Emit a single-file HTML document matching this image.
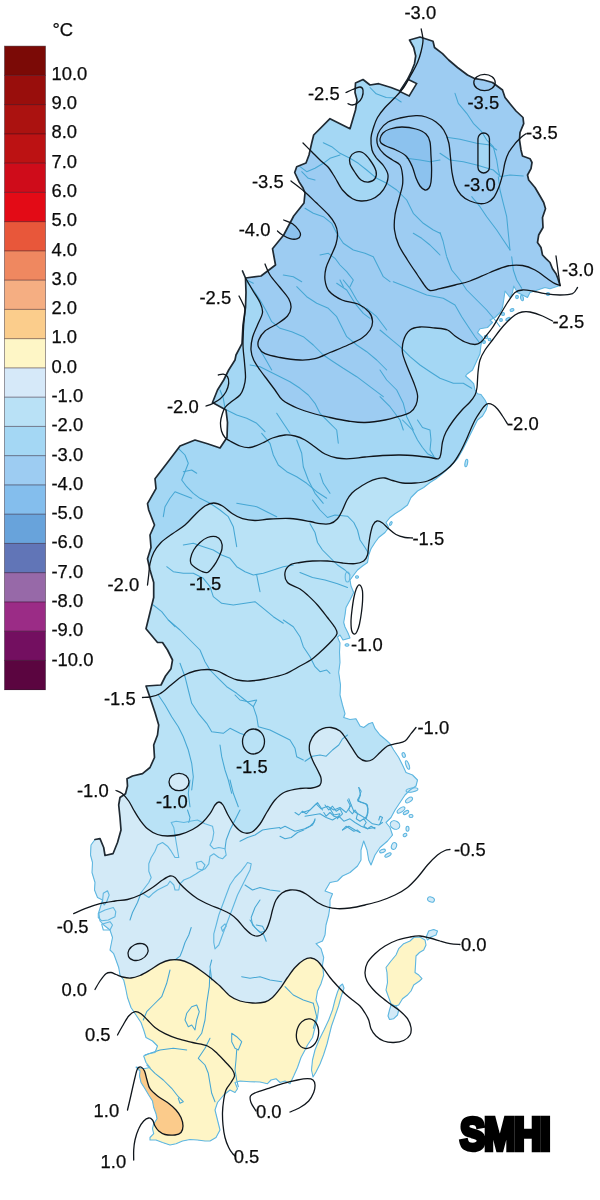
<!DOCTYPE html>
<html lang="sv">
<head>
<meta charset="utf-8">
<title>SMHI temperaturavvikelse</title>
<style>
html,body{margin:0;padding:0;background:#fff;}
body{width:600px;height:1200px;overflow:hidden;font-family:"Liberation Sans",sans-serif;}
svg{display:block;}
</style>
</head>
<body>
<svg width="600" height="1200" viewBox="0 0 600 1200">
<defs><clipPath id="land">
<path d="M560,285.5 L558,278.7 L556,273.7 L552.5,268.7 L550,262.5 L546,258.7 L542.5,255 L541,247.5 L537.5,242.5 L538.7,235 L543,227.5 L542.5,217.5 L545.5,208.7 L543.7,202.5 L540,196 L535,187.5 L528.7,180 L527.5,175 L531,168.7 L532,162.5 L530,158.7 L522.5,156 L521,150 L519.5,140 L520,132.5 L523.7,123.7 L523,117.5 L516,111 L510,103.7 L505,97.5 L502.5,90 L492.5,82.5 L483.7,80 L475,78.7 L467.5,75 L457.5,67.5 L448.7,60 L442.5,53.7 L434.5,47.5 L433,41.2 L420,37 L409.5,40 L413.7,47.5 L415.7,56 L414.5,63.7 L411,72.5 L407.5,79.5 L400,91 L391,87.5 L378.7,83.7 L370,85 L363,79.5 L355.5,83 L355,92.5 L357,100 L355.5,110 L350,128.7 L330,118.7 L313.7,135 L311.7,143 L309,155 L306,163 L296.7,166.7 L294.7,172.5 L299,181.7 L303,188 L305,193 L304,203 L293.7,216 L283.7,235 L272.5,248.7 L275.5,265 L261,276 L245.5,278 L242.5,271 L245.5,278 L246,292.5 L245.5,307.5 L243,325 L242,343.7 L236,355 L235,360 L228.7,370 L223.7,380 L217.5,390 L212.5,402.5 L226,410 L227.5,422.5 L227,437.5 L220,448 L207.5,443.7 L195,440 L180,446 L167.5,462.5 L155,478.7 L156,488.7 L147.5,503.7 L148.7,510 L154.5,525 L150,535 L151,547.5 L147.5,558.7 L150,570 L153.7,582.5 L153.7,597.5 L150,612.5 L146,628.7 L157.5,642.5 L162.5,642.5 L167.5,650 L172.5,660 L171,668.7 L165.5,676 L161,685 L146,686 L150,697.5 L155,712.5 L158.7,725 L157.5,735 L153.7,745 L154.5,757.5 L150,767.5 L142.5,773.7 L132.5,776 L127,778.7 L127.5,786 L125.5,793.7 L120,797.5 L118.7,805 L120,817.5 L121,830 L117.5,842.5 L113,853.7 L105,855.5 L103.7,847.5 L100,838.7 L95,839.5 L91,845 L90.5,855 L92.5,862.5 L92,872.5 L95,882.5 L94.5,890 L97.5,897.5 L102.5,900 L101,905 L98.7,912.5 L100,921 L103.7,925 L110,930 L112.5,937.5 L111,945 L110,950 L113.7,953.7 L116,960 L118.7,967.5 L120,975 L123.7,980 L125.5,987.5 L127.5,997.5 L131,1007.5 L136,1015 L141,1022.5 L143.7,1030 L146,1037.5 L152.5,1041 L157.5,1046 L155,1052.5 L148.7,1053.7 L143.7,1056 L146,1062.5 L150,1067.5 L143.7,1068.7 L136,1067 L140,1071 L139.5,1076 L141,1082.5 L145,1088.7 L148.7,1095 L152.5,1101 L153.7,1107.5 L156,1113.7 L157,1118.7 L153.7,1123.7 L152.5,1128.7 L153.7,1133.7 L150,1137.5 L150,1140 L156,1140 L162.5,1142.5 L170,1145 L176,1143.7 L182.5,1141 L190,1139.5 L197.5,1140 L205,1141 L210,1141 L216,1137.5 L220,1130 L217.5,1120 L215,1110 L217.5,1102.5 L223.7,1095 L230,1090 L235,1092.5 L237.5,1088.7 L235,1082.5 L240,1081 L250,1081.7 L260,1082 L267.5,1083.7 L271,1080 L276,1078.7 L280,1082.5 L285,1081 L290,1083.7 L293.7,1076 L297.5,1067.5 L301,1057.5 L305,1050 L307.5,1045 L312.5,1037.5 L315,1027.5 L317.5,1017.5 L318.7,1007.5 L316,1000 L317.5,991 L321,983.7 L323.7,975 L322.5,965 L323.7,957.5 L321,948.7 L316,943.7 L322.5,941 L325,935 L326,925 L328.7,915 L330,906 L330,900 L332.5,893.7 L325,891 L330,882.5 L337.5,881 L342.5,876 L350,872.5 L357.5,866 L361,860 L361,850 L363.7,841 L367,850 L368.7,860 L371,865 L375,855 L380,847.5 L387.5,841 L392.5,835 L390,827.5 L386,822.5 L391,817.5 L395,810 L400,802.5 L405,795 L410,790 L416,786 L417.5,780 L412.5,775 L406,772.5 L402.5,765 L398.7,757.5 L393.7,750 L390,743.7 L386,740 L380,735 L375,728.7 L372.5,722.5 L368.7,723.7 L363.7,727.5 L360,726 L356,718.7 L350,719.5 L343.7,717.5 L345,713.7 L342.5,705 L340,695 L340.5,685 L338.7,672.5 L340,662.5 L339.5,652 L340,643 L337.5,637 L340,635 L343,640 L350,638 L348,633 L345,627 L343.7,622.5 L345,615 L346,607.5 L350,600 L353.7,592.5 L351,586 L350,580 L353.7,575 L357.5,570 L362.5,566 L367.5,562.5 L368.7,555 L371,548.7 L375,542.5 L378.7,537.5 L385,532.5 L388.7,527.5 L386,522.5 L390,517.5 L395,513.7 L401,510 L407.5,505 L411,497.5 L417.5,491 L423.7,487.5 L430,482.5 L436,478.7 L443.7,472.5 L451,466 L457.5,458.7 L462.5,450 L467.5,440 L472.5,430 L477.5,420 L482.5,416 L486,410 L487.5,405 L485,400 L481,394.5 L477.5,393.7 L475,390 L473.7,383.7 L470,380 L465.5,376 L467.5,373.7 L472.5,370 L476,362.5 L480,353.7 L481,345 L482.5,337.5 L477.5,332.5 L480,328.7 L487.5,327.5 L492.5,322.5 L490,320 L495,317.5 L500,312.5 L502.5,307.5 L503.7,300 L505,291 L510,297.5 L512.5,292.5 L513.7,286 L517.5,292.5 L522.5,295 L527.5,297.5 L530,292.5 L537.5,290 L545,287.5 L550,288.7Z"/>
<path d="M342.5,984 L344,988 L341,997 L338.5,1006 L335,1016 L331.5,1026 L329.5,1034 L327,1044 L323.5,1055 L320,1064 L316,1072 L313,1077 L311.5,1070 L312.5,1060 L315,1050 L319,1040 L324,1030 L328.7,1020 L332.5,1010 L335,1000 L337.5,992 L340,986Z"/>
<path d="M413.7,937.5 L420,937 L425,940 L426,945 L423.7,950 L419.5,952.5 L416,956 L415.5,965 L415,972.5 L418.7,975 L422,978.7 L419.5,981 L413.7,985 L411,991 L407.5,995 L402.5,998.7 L398.7,1005 L395,1006 L391,1003.7 L388.7,997.5 L386,990 L387.5,982.5 L387,972.5 L386,967.5 L391,961 L396,955 L398.7,948.7 L403.7,943.7 L410,941Z"/>
<path d="M426,937.5 L428.7,931 L433.7,929.5 L437.5,931 L436,935 L431,937 L427.5,940Z"/>
<path d="M391,1005 L396,1006 L398.7,1010 L397.5,1015 L393.7,1018.7 L389.5,1019.5 L388,1016 L389.5,1010Z"/>
<ellipse cx="403.7" cy="755" rx="1.5" ry="2.5" transform="rotate(-20 403.7 755)" />
<ellipse cx="407.5" cy="765" rx="1.5" ry="4.5" transform="rotate(-20 407.5 765)" />
<ellipse cx="412" cy="790" rx="6" ry="2" transform="rotate(-10 412 790)" />
<ellipse cx="409" cy="800" rx="4" ry="2" transform="rotate(-35 409 800)" />
<ellipse cx="401" cy="810" rx="4.5" ry="2" transform="rotate(-35 401 810)" />
<ellipse cx="406" cy="812.5" rx="3" ry="1.5" transform="rotate(-30 406 812.5)" />
<ellipse cx="411" cy="816" rx="2" ry="1.5" />
<ellipse cx="395" cy="825" rx="5" ry="4" transform="rotate(30 395 825)" />
<ellipse cx="407.5" cy="828.7" rx="1.5" ry="2.5" />
<ellipse cx="405" cy="835" rx="2" ry="1.5" transform="rotate(-30 405 835)" />
<ellipse cx="394" cy="846" rx="2.5" ry="3.5" transform="rotate(20 394 846)" />
<ellipse cx="382.5" cy="851" rx="3" ry="1.5" transform="rotate(-20 382.5 851)" />
<ellipse cx="388" cy="855" rx="3.5" ry="1.5" transform="rotate(-30 388 855)" />
<ellipse cx="431" cy="899.5" rx="3.5" ry="2.5" transform="rotate(20 431 899.5)" />
<ellipse cx="517" cy="297" rx="1.4" ry="1.6" />
<ellipse cx="522" cy="298" rx="1.4" ry="2.8" transform="rotate(-10 522 298)" />
<ellipse cx="548" cy="294" rx="1.6" ry="1.4" />
<ellipse cx="512" cy="310" rx="2" ry="1.4" transform="rotate(-20 512 310)" />
<ellipse cx="503" cy="314" rx="1.5" ry="1.5" />
<ellipse cx="501" cy="320" rx="1.4" ry="1.4" />
<ellipse cx="508" cy="319" rx="2.4" ry="1.1" transform="rotate(-30 508 319)" />
<ellipse cx="486" cy="337" rx="1.8" ry="1.8" />
<ellipse cx="489.5" cy="339.5" rx="1.3" ry="1.3" />
<ellipse cx="484" cy="342" rx="1.4" ry="1.4" />
<ellipse cx="466.3" cy="463" rx="1.3" ry="3.8" transform="rotate(10 466.3 463)" />
<ellipse cx="390.8" cy="523.5" rx="1" ry="2" transform="rotate(30 390.8 523.5)" />
<ellipse cx="357" cy="577" rx="1.5" ry="1.2" />
<ellipse cx="347" cy="645" rx="2" ry="1.2" />
<ellipse cx="347.5" cy="577" rx="2.3" ry="5" />
</clipPath></defs>
<g clip-path="url(#land)">
<rect x="0" y="0" width="600" height="1200" fill="#9dccf2"/>
<path d="M0,1200 L0,278 L245.5,278 L246.3,279.3 L247.3,281.1 L248.5,283.2 L249.9,285.5 L251.2,287.8 L252.5,290 L253.8,292.1 L255.1,294.2 L256.5,296.4 L257.9,298.5 L259,300.6 L260,302.5 L260.8,304.3 L261.5,305.9 L262,307.5 L262.4,309.1 L262.6,310.7 L262.5,312.5 L262.1,314.4 L261.4,316.5 L260.5,318.6 L259.4,320.7 L258.4,322.9 L257.5,325 L256.6,327.1 L255.7,329.2 L254.8,331.2 L253.9,333.3 L253.1,335.4 L252.5,337.5 L252,339.6 L251.6,341.8 L251.3,343.9 L251.1,346 L251,348.1 L251,350 L251.2,351.8 L251.5,353.5 L251.9,355.2 L252.4,356.8 L253,358.4 L253.7,360 L254.5,361.7 L255.5,363.3 L256.5,365 L257.7,366.7 L258.8,368.3 L260,370 L261.2,371.7 L262.4,373.3 L263.7,375 L265,376.7 L266.2,378.3 L267.5,380 L268.8,381.7 L270,383.3 L271.2,385 L272.5,386.7 L273.8,388.3 L275,390 L276.2,391.7 L277.2,393.4 L278.3,395.1 L279.5,396.8 L280.8,398.4 L282.5,400 L284.5,401.5 L286.7,402.9 L289.1,404.2 L291.6,405.6 L294.3,406.8 L297,408 L299.8,409.1 L302.9,410.2 L306,411.3 L309.1,412.3 L312.1,413.2 L315,414 L317.6,414.7 L320.1,415.4 L322.5,415.9 L324.9,416.4 L327.4,416.9 L330,417.5 L332.8,418.1 L335.8,418.7 L338.9,419.4 L342,420 L345,420.5 L348,421 L350.9,421.4 L353.6,421.8 L356.4,422.1 L359.1,422.4 L362,422.5 L365,422.5 L368.2,422.3 L371.6,422 L375.1,421.6 L378.6,421.1 L381.9,420.5 L385,420 L387.8,419.4 L390.6,418.8 L393.1,418.1 L395.6,417.4 L397.8,416.7 L400,416 L402,415.4 L403.9,414.9 L405.6,414.5 L407.1,413.9 L408.6,413.3 L410,412.5 L411.3,411.5 L412.5,410.4 L413.5,409.2 L414.5,407.8 L415.3,406.4 L416,405 L416.6,403.5 L417,401.9 L417.4,400.3 L417.6,398.6 L417.6,396.8 L417.5,395 L417.2,393.1 L416.7,391.1 L416.1,389.1 L415.3,386.9 L414.5,384.8 L413.7,382.5 L412.8,380.1 L411.8,377.7 L410.7,375.2 L409.6,372.6 L408.5,370 L407.5,367.5 L406.5,365 L405.5,362.4 L404.5,359.8 L403.7,357.3 L403,354.9 L402.5,352.5 L402.3,350.2 L402.3,348.1 L402.4,345.9 L402.7,343.9 L403.1,341.9 L403.7,340 L404.4,338.1 L405.3,336.2 L406.3,334.4 L407.4,332.7 L408.7,331.2 L410,330 L411.4,329 L412.9,328.3 L414.5,327.8 L416.2,327.4 L418,327.2 L420,327 L422.2,326.9 L424.7,327 L427.3,327.2 L430,327.4 L432.6,327.7 L435,328 L437.3,328.2 L439.5,328.4 L441.7,328.7 L443.8,329 L445.7,329.4 L447.5,330 L449,330.8 L450.3,331.7 L451.4,332.8 L452.5,333.9 L453.7,335 L455,336 L456.5,337 L458.1,338.1 L459.8,339.2 L461.6,340.3 L463.3,341.2 L465,342 L466.7,342.7 L468.5,343.3 L470.2,343.8 L472,344.2 L473.6,344.4 L475,344.5 L476.2,344.4 L477.3,344.2 L478.3,343.8 L479.2,343.3 L480.1,342.7 L481,342 L481.9,341.2 L482.7,340.4 L483.5,339.4 L484.3,338.3 L485.1,337.2 L486,336 L487,334.8 L488,333.5 L489.1,332.2 L490.2,330.7 L491.3,329.2 L492.5,327.5 L493.7,325.6 L494.9,323.6 L496.2,321.5 L497.5,319.3 L498.7,317.1 L500,315 L501.3,312.9 L502.5,310.7 L503.8,308.6 L505,306.5 L506.2,304.4 L507.5,302.5 L508.8,300.6 L510,298.7 L511.2,296.9 L512.5,295.2 L513.8,293.7 L515,292.5 L516.2,291.6 L517.4,291 L518.6,290.6 L519.8,290.3 L521.1,290.1 L522.5,290 L524,289.9 L525.6,290 L527.2,290.2 L528.9,290.4 L530.7,290.7 L532.5,291 L534.4,291.4 L536.4,291.8 L538.4,292.3 L540.6,292.8 L542.7,293.3 L545,293.7 L547.4,294 L549.9,294.3 L552.5,294.6 L555.1,294.8 L557.6,295 L560,295 L562.3,295 L564.6,294.9 L566.9,294.8 L569,294.6 L570.9,294.2 L572.5,293.7 L573.8,292.9 L574.9,291.8 L575.8,290.5 L576.5,289.3 L577,288.2 L577.5,287.5 L600,287.5 L600,1200Z" fill="#a4d7f4"/>
<path d="M421,0 L421.2,29 L421.4,30.2 L421.8,31.9 L422.2,33.8 L422.6,35.9 L422.9,38 L423,40 L422.9,41.8 L422.7,43.6 L422.4,45.5 L422.1,47.3 L421.7,49.1 L421.2,51 L420.7,52.9 L420.2,54.8 L419.6,56.7 L419,58.6 L418.3,60.5 L417.5,62.5 L416.6,64.5 L415.6,66.6 L414.5,68.7 L413.3,70.8 L412.2,72.9 L411,75 L409.8,77.1 L408.7,79.3 L407.5,81.4 L406.3,83.5 L405,85.6 L403.7,87.5 L402.3,89.3 L401,91 L399.5,92.7 L398,94.3 L396.5,95.9 L395,97.5 L393.4,99.2 L391.7,100.8 L389.9,102.5 L388.2,104.2 L386.5,105.8 L385,107.5 L383.6,109.2 L382.2,110.8 L380.9,112.5 L379.6,114.2 L378.5,115.8 L377.5,117.5 L376.6,119.2 L375.9,120.8 L375.2,122.5 L374.6,124.1 L374,125.8 L373.5,127.5 L373,129.2 L372.4,130.9 L371.9,132.6 L371.5,134.4 L371.2,136.2 L371,138 L370.9,140 L371,142.1 L371.1,144.2 L371.3,146.3 L371.6,148.2 L372,150 L372.5,151.5 L373,152.8 L373.6,154 L374.3,155.1 L375.1,156.2 L376,157.5 L377.1,158.9 L378.4,160.2 L379.8,161.7 L381.2,163.1 L382.6,164.5 L383.7,166 L384.7,167.5 L385.6,168.9 L386.5,170.4 L387.2,171.9 L387.7,173.4 L388,175 L388.1,176.6 L387.9,178.3 L387.6,180 L387.2,181.7 L386.6,183.4 L386,185 L385.3,186.6 L384.4,188.1 L383.4,189.6 L382.4,191.1 L381.2,192.4 L380,193.7 L378.7,194.9 L377.3,196 L375.8,197.1 L374.2,198 L372.6,198.8 L371,199.5 L369.4,200 L367.7,200.5 L366,200.8 L364.3,200.9 L362.6,201 L361,201 L359.5,200.9 L358.1,200.8 L356.8,200.5 L355.4,200.1 L354,199.5 L352.5,198.7 L350.9,197.7 L349.2,196.4 L347.4,195 L345.7,193.4 L344,191.7 L342.5,190 L341.1,188.1 L339.8,186 L338.6,183.9 L337.4,181.7 L336.2,179.5 L335,177.5 L333.8,175.6 L332.7,173.7 L331.5,171.9 L330.4,170.2 L329.2,168.5 L328,167 L326.7,165.6 L325.4,164.4 L324.1,163.3 L322.7,162.3 L321.3,161.2 L320,160 L318.7,158.7 L317.4,157.4 L316.1,156.1 L314.7,154.8 L313.4,153.4 L312,152 L310.5,150.5 L308.7,148.7 L307,147 L305.4,145.4 L304,144 L303,143 L280,143 L280,0Z" fill="#a4d7f4"/>
<rect x="477.95" y="133" width="11.5" height="40" rx="5.75" ry="5.75" fill="#a4d7f4"/>
<path d="M380,139 C380.3,137.3 381.3,134.7 383,133 C384.7,131.3 386.8,130.0 390,129 C393.2,128.0 397.7,127.0 402,127 C406.3,127.0 412.0,127.8 416,129 C420.0,130.2 423.7,131.8 426,134 C428.3,136.2 429.2,138.3 430,142 C430.8,145.7 430.7,151.3 431,156 C431.3,160.7 431.6,165.7 431.6,170 C431.6,174.3 431.4,179.0 431,182 C430.6,185.0 430.0,186.7 429,188 C428.0,189.3 426.5,190.3 425,190 C423.5,189.7 421.5,188.0 420,186 C418.5,184.0 417.3,181.3 416,178 C414.7,174.7 413.7,169.7 412,166 C410.3,162.3 408.7,158.7 406,156 C403.3,153.3 399.3,151.7 396,150 C392.7,148.3 388.5,147.2 386,146 C383.5,144.8 382.0,144.2 381,143 C380.0,141.8 379.7,140.7 380,139Z" fill="#8cc2ee"/>
<path d="M283.7,220 C286.2,218.8 290.0,222.0 292.5,223.7 C295.0,225.4 297.4,228.1 298.7,230 C300.0,231.9 300.7,233.6 300.5,235 C300.3,236.4 299.2,238.1 297.5,238.7 C295.8,239.3 292.5,239.3 290,238.7 C287.5,238.1 284.6,236.3 282.5,235 C280.4,233.7 277.3,233.5 277.5,231 C277.7,228.5 281.2,221.2 283.7,220Z" fill="#8cc2ee"/>
<path d="M0,1200 L0,585 L147.5,585 L147.6,583.9 L147.8,582.5 L148,580.7 L148.2,578.8 L148.5,576.9 L148.7,575 L148.9,573.2 L149,571.3 L149.2,569.4 L149.4,567.5 L149.6,565.6 L150,563.7 L150.4,561.8 L150.9,559.9 L151.5,558 L152.1,556.1 L152.8,554.3 L153.7,552.5 L154.7,550.8 L155.7,549 L156.9,547.4 L158.1,545.7 L159.5,544.1 L161,542.5 L162.7,541 L164.5,539.5 L166.4,538 L168.4,536.6 L170.5,535.1 L172.5,533.7 L174.5,532.3 L176.6,530.9 L178.8,529.5 L180.9,528.1 L183,526.6 L185,525 L186.9,523.2 L188.9,521.3 L190.7,519.3 L192.5,517.3 L194.3,515.4 L196,513.7 L197.6,512.2 L199.2,510.7 L200.6,509.3 L202.1,508.1 L203.5,507 L205,506 L206.5,505.2 L207.9,504.4 L209.4,503.8 L210.8,503.4 L212.2,503.1 L213.7,503 L215.1,503.1 L216.6,503.4 L218,503.8 L219.5,504.4 L221,505.2 L222.5,506 L224.1,507 L225.7,508.3 L227.4,509.7 L229.1,511.2 L230.8,512.5 L232.5,513.7 L234.1,514.7 L235.7,515.7 L237.3,516.6 L239,517.4 L240.7,518.1 L242.5,518.7 L244.4,519.2 L246.4,519.7 L248.4,520 L250.6,520.3 L252.7,520.4 L255,520.5 L257.3,520.4 L259.6,520.2 L262,519.9 L264.5,519.5 L267.2,519.2 L270,519 L273,518.8 L276.3,518.6 L279.7,518.5 L283.1,518.4 L286.6,518.4 L290,518.5 L293.4,518.8 L297,519.3 L300.6,519.8 L304.1,520.4 L307.2,521 L310,521.5 L312.2,521.9 L314.1,522.4 L315.6,522.8 L317,523.2 L318.4,523.5 L320,523.7 L321.7,523.9 L323.4,524 L325.2,524.2 L326.9,524.2 L328.5,524 L330,523.7 L331.4,523.2 L332.8,522.5 L334.1,521.7 L335.3,520.8 L336.4,519.8 L337.5,518.7 L338.5,517.5 L339.4,516.1 L340.2,514.7 L341,513.1 L341.7,511.6 L342.5,510 L343.3,508.4 L344,506.7 L344.8,504.9 L345.5,503.2 L346.2,501.5 L347,500 L347.8,498.6 L348.6,497.3 L349.4,496.1 L350.3,495 L351.1,494 L352,493 L352.8,492.1 L353.6,491.4 L354.4,490.8 L355.3,490.2 L356.3,489.5 L357.5,488.7 L358.9,487.7 L360.5,486.7 L362.2,485.6 L364,484.5 L365.8,483.4 L367.5,482.5 L369.2,481.7 L370.9,480.9 L372.7,480.3 L374.4,479.6 L376,479.1 L377.5,478.7 L378.9,478.4 L380.2,478.1 L381.4,478 L382.6,477.9 L383.8,477.9 L385,478 L386.2,478.2 L387.4,478.6 L388.6,479.1 L389.8,479.5 L391.1,480 L392.5,480.5 L394,480.9 L395.6,481.4 L397.2,481.9 L398.9,482.4 L400.7,482.7 L402.5,483 L404.4,483.2 L406.5,483.3 L408.6,483.3 L410.7,483.2 L412.9,483.1 L415,483 L417.1,482.8 L419.3,482.6 L421.4,482.3 L423.5,482 L425.6,481.5 L427.5,481 L429.3,480.4 L431.1,479.6 L432.8,478.8 L434.4,477.9 L435.9,476.9 L437.5,476 L439,475.1 L440.5,474.1 L441.9,473.2 L443.3,472.1 L444.6,471.1 L446,470 L447.3,468.9 L448.7,467.7 L450,466.5 L451.3,465.2 L452.5,463.9 L453.7,462.5 L454.8,461 L456,459.4 L457,457.7 L458,455.9 L459,454.2 L460,452.5 L460.9,450.9 L461.8,449.2 L462.6,447.6 L463.4,445.9 L464.2,444.3 L465,442.5 L465.8,440.7 L466.7,438.8 L467.5,436.8 L468.3,434.9 L469.2,432.9 L470,431 L470.8,429.1 L471.7,427.2 L472.5,425.3 L473.3,423.4 L474.2,421.7 L475,420 L475.8,418.5 L476.7,417 L477.6,415.7 L478.4,414.4 L479.2,413.2 L480,412 L480.7,410.9 L481.4,409.9 L482.1,408.9 L482.7,408 L483.3,407.2 L484,406.5 L484.7,405.8 L485.3,405.2 L485.9,404.7 L486.6,404.2 L487.3,403.9 L488,403.7 L488.8,403.6 L489.6,403.7 L490.5,403.9 L491.3,404.2 L492.2,404.6 L493,405 L493.8,405.5 L494.5,406 L495.2,406.6 L496,407.3 L496.7,408.1 L497.5,409 L498.3,410 L499.1,411.1 L500,412.2 L500.8,413.5 L501.7,414.7 L502.5,416 L503.4,417.4 L504.4,418.9 L505.3,420.4 L506.2,421.9 L507,423.1 L507.5,424 L600,424 L600,1200Z" fill="#b9e2f6"/>
<path d="M0,1200 L0,790.5 L116,790.5 L116.7,790.8 L117.7,791.2 L118.9,791.6 L120.1,792.2 L121.4,792.9 L122.5,793.7 L123.6,794.7 L124.6,795.8 L125.7,797 L126.7,798.3 L127.7,799.6 L128.7,801 L129.6,802.4 L130.4,803.8 L131.2,805.3 L132,806.9 L132.8,808.4 L133.7,810 L134.7,811.6 L135.7,813.3 L136.7,815 L137.8,816.7 L138.9,818.4 L140,820 L141.2,821.6 L142.3,823.1 L143.5,824.6 L144.8,826.1 L146.1,827.4 L147.5,828.7 L149,829.9 L150.6,831 L152.3,832 L154.1,833 L155.8,833.8 L157.5,834.5 L159.1,835 L160.7,835.4 L162.3,835.7 L164,835.9 L165.7,836 L167.5,836 L169.4,836 L171.5,835.9 L173.6,835.7 L175.7,835.4 L177.9,835 L180,834.5 L182.1,833.9 L184.3,833.2 L186.4,832.3 L188.5,831.4 L190.6,830.5 L192.5,829.5 L194.3,828.5 L196.1,827.4 L197.8,826.2 L199.4,825 L201,823.8 L202.5,822.5 L203.9,821.1 L205.3,819.7 L206.6,818.2 L207.8,816.7 L208.9,815.2 L210,813.7 L211,812.2 L211.9,810.6 L212.7,809 L213.5,807.5 L214.3,806.1 L215,805 L215.7,804.1 L216.4,803.4 L217.1,802.8 L217.7,802.3 L218.3,802.1 L219,802 L219.7,802.1 L220.3,802.3 L220.9,802.7 L221.6,803.3 L222.3,804 L223,805 L223.8,806.2 L224.5,807.8 L225.3,809.5 L226.1,811.3 L227,813.2 L228,815 L229,816.8 L230.1,818.8 L231.3,820.7 L232.5,822.6 L233.8,824.4 L235,826 L236.3,827.4 L237.6,828.8 L238.9,830 L240.2,831 L241.6,831.9 L243,832.5 L244.5,832.9 L246,833.1 L247.5,833.2 L249,833 L250.5,832.6 L252,832 L253.4,831.1 L254.8,830 L256.1,828.7 L257.4,827.2 L258.7,825.7 L260,824 L261.2,822.2 L262.4,820.3 L263.5,818.2 L264.6,816.1 L265.8,814 L267,812 L268.3,810 L269.5,807.9 L270.8,805.8 L272.1,803.7 L273.5,801.8 L275,800 L276.5,798.4 L278,796.9 L279.6,795.5 L281.2,794.2 L283,793 L285,792 L287.2,791.1 L289.7,790.4 L292.4,789.8 L295,789.3 L297.6,788.9 L300,788.5 L302.2,788.3 L304.4,788.2 L306.4,788.2 L308.4,788.2 L310.3,788.2 L312,788 L313.6,787.7 L315.2,787.3 L316.7,786.9 L318,786.4 L319.1,785.8 L320,785 L320.6,784.1 L321,783 L321.2,781.8 L321.3,780.6 L321.2,779.3 L321,778 L320.7,776.7 L320.2,775.5 L319.6,774.2 L318.9,772.9 L318.2,771.5 L317.5,770 L316.7,768.4 L315.9,766.8 L315,765.1 L314.1,763.3 L313.2,761.6 L312.5,760 L311.8,758.4 L311.2,756.9 L310.7,755.4 L310.2,753.9 L309.8,752.5 L309.5,751 L309.3,749.6 L309.2,748.1 L309.2,746.7 L309.4,745.3 L309.6,743.9 L310,742.5 L310.5,741 L311.2,739.4 L312.1,737.9 L313,736.4 L314,735 L315,733.7 L316.1,732.6 L317.3,731.6 L318.5,730.7 L319.8,729.9 L321.2,729.3 L322.5,728.7 L323.9,728.2 L325.2,727.8 L326.7,727.6 L328.1,727.4 L329.5,727.4 L331,727.5 L332.5,727.8 L334.1,728.2 L335.7,728.7 L337.2,729.3 L338.7,730.1 L340,731 L341.2,732 L342.2,733.2 L343.2,734.4 L344.1,735.8 L345,737.2 L346,738.7 L347.1,740.2 L348.1,741.9 L349.2,743.6 L350.3,745.4 L351.4,747.1 L352.5,748.7 L353.5,750.3 L354.6,751.9 L355.6,753.5 L356.6,755 L357.6,756.4 L358.7,757.5 L359.8,758.4 L360.9,759.2 L362,759.9 L363.2,760.4 L364.3,760.8 L365.5,761 L366.6,761.1 L367.8,761.1 L369,760.9 L370.1,760.6 L371.3,760.1 L372.5,759.5 L373.7,758.6 L375,757.6 L376.2,756.3 L377.5,755 L378.7,753.7 L380,752.5 L381.2,751.3 L382.5,750.1 L383.7,749 L384.9,747.8 L386.2,746.8 L387.5,746 L388.9,745.4 L390.2,744.9 L391.7,744.6 L393.1,744.3 L394.5,744.1 L396,743.7 L397.5,743.3 L399.1,743 L400.7,742.7 L402.2,742.3 L403.7,741.7 L405,741 L406.2,740 L407.3,738.9 L408.2,737.6 L409.2,736.2 L410.1,734.9 L411,733.7 L411.9,732.5 L412.9,731.3 L413.9,730.1 L414.7,729.1 L415.5,728.2 L416,727.5 L600,727.5 L600,1200Z" fill="#d3eaf7"/>
<ellipse cx="179" cy="782" rx="10" ry="8.7" fill="#d3eaf7"/>
<path d="M359.3,584.8 C360.3,585.0 361.8,587.5 362.3,590 C362.9,592.5 362.7,596.3 362.6,600 C362.5,603.7 362.0,608.0 361.5,612 C361.0,616.0 360.2,620.8 359.5,624 C358.8,627.2 357.8,629.8 357,631.5 C356.2,633.2 355.4,634.3 354.5,634.2 C353.6,634.1 352.4,633.0 351.8,631 C351.2,629.0 351.0,625.5 351,622 C351.0,618.5 351.5,614.0 352,610 C352.5,606.0 353.1,601.5 353.8,598 C354.5,594.5 355.3,591.2 356.2,589 C357.1,586.8 358.3,584.6 359.3,584.8Z" fill="#d3eaf7"/>
<path d="M0,1200 L0,989.5 L95,989.5 L95.5,988.6 L96.3,987.3 L97.1,985.7 L98.1,984.1 L99.1,982.4 L100,981 L101,979.6 L102,978.3 L103,976.9 L104,975.6 L105,974.5 L106,973.7 L106.9,973.1 L107.7,972.7 L108.6,972.5 L109.4,972.4 L110.2,972.4 L111,972.5 L111.8,972.6 L112.6,972.9 L113.4,973.3 L114.2,973.7 L115.1,974.1 L116,974.5 L117,974.9 L118,975.4 L119,975.8 L120.1,976.3 L121.3,976.7 L122.5,977 L123.8,977.3 L125.2,977.6 L126.6,977.8 L128.1,978 L129.5,978.1 L131,978 L132.5,977.8 L133.9,977.5 L135.4,977.2 L136.9,976.7 L138.4,976.1 L140,975.5 L141.6,974.8 L143.3,973.9 L144.9,973 L146.6,972 L148.3,971 L150,970 L151.7,969 L153.3,967.9 L155,966.7 L156.7,965.6 L158.3,964.6 L160,963.7 L161.7,962.9 L163.3,962.1 L165,961.5 L166.7,960.9 L168.3,960.4 L170,960 L171.7,959.7 L173.3,959.6 L175,959.5 L176.7,959.6 L178.3,959.7 L180,960 L181.7,960.4 L183.3,960.9 L185,961.5 L186.7,962.1 L188.3,962.9 L190,963.7 L191.7,964.6 L193.3,965.6 L195,966.6 L196.7,967.7 L198.3,968.9 L200,970 L201.7,971.2 L203.3,972.4 L205,973.6 L206.7,974.9 L208.3,976.2 L210,977.5 L211.7,978.8 L213.3,980.2 L215,981.6 L216.7,983 L218.3,984.5 L220,986 L221.7,987.6 L223.3,989.4 L225,991.2 L226.7,993 L228.3,994.6 L230,996 L231.6,997.2 L233.2,998.1 L234.8,999 L236.5,999.7 L238.2,1000.4 L240,1001 L241.9,1001.5 L244,1002 L246.1,1002.4 L248.2,1002.7 L250.4,1002.9 L252.5,1003 L254.6,1003 L256.9,1003 L259.1,1002.9 L261.2,1002.7 L263.2,1002.4 L265,1002 L266.5,1001.5 L267.9,1000.9 L269.1,1000.2 L270.2,999.4 L271.3,998.5 L272.5,997.5 L273.8,996.3 L275,995 L276.2,993.5 L277.5,992 L278.8,990.4 L280,988.7 L281.3,987 L282.5,985.1 L283.8,983.2 L285,981.2 L286.2,979.3 L287.5,977.5 L288.7,975.7 L290,974 L291.2,972.3 L292.4,970.6 L293.7,969 L295,967.5 L296.4,966 L297.9,964.6 L299.4,963.2 L300.9,962 L302.3,960.9 L303.7,960 L305,959.3 L306.3,958.7 L307.5,958.3 L308.7,958.1 L309.8,958 L311,958 L312.1,958.2 L313.2,958.5 L314.3,958.9 L315.4,959.5 L316.4,960.2 L317.5,961 L318.5,962 L319.6,963.2 L320.6,964.5 L321.6,965.9 L322.7,967.3 L323.7,968.7 L324.7,970.1 L325.7,971.6 L326.8,973 L327.8,974.5 L328.9,976 L330,977.5 L331.2,978.9 L332.4,980.4 L333.7,981.8 L335,983.2 L336.2,984.6 L337.5,986 L338.8,987.3 L340,988.7 L341.2,990 L342.5,991.3 L343.8,992.5 L345,993.7 L346.3,994.8 L347.5,995.9 L348.8,997 L350,998 L351.2,999 L352.5,1000 L353.8,1001 L355.1,1002 L356.4,1003 L357.7,1003.9 L358.9,1004.9 L360,1006 L361,1007.1 L361.9,1008.3 L362.7,1009.4 L363.5,1010.6 L364.3,1011.8 L365,1013 L365.7,1014.1 L366.4,1015.3 L367,1016.4 L367.6,1017.5 L368.2,1018.7 L368.7,1020 L369.1,1021.4 L369.5,1022.8 L369.8,1024.3 L370.1,1025.8 L370.5,1027.3 L371,1028.7 L371.6,1030 L372.4,1031.3 L373.2,1032.6 L374,1033.8 L375,1034.9 L376,1036 L377.1,1037 L378.3,1038 L379.5,1038.9 L380.9,1039.7 L382.3,1040.4 L383.7,1041 L385.2,1041.5 L386.9,1041.9 L388.6,1042.2 L390.3,1042.4 L392,1042.5 L393.7,1042.5 L395.4,1042.4 L397.2,1042.2 L398.9,1041.9 L400.6,1041.6 L402.2,1041.1 L403.7,1040.5 L405,1039.8 L406.3,1039 L407.4,1038.1 L408.4,1037.1 L409.3,1036.1 L410,1035 L410.5,1033.9 L410.9,1032.7 L411.1,1031.5 L411.2,1030.2 L411.2,1028.8 L411,1027.5 L410.7,1026.1 L410.3,1024.6 L409.8,1023.1 L409.1,1021.6 L408.4,1020.1 L407.5,1018.7 L406.5,1017.3 L405.4,1016 L404.2,1014.8 L402.8,1013.5 L401.4,1012.2 L400,1011 L398.5,1009.8 L396.9,1008.6 L395.2,1007.4 L393.4,1006.1 L391.7,1004.9 L390,1003.7 L388.3,1002.4 L386.6,1001.1 L384.8,999.9 L383.1,998.6 L381.5,997.3 L380,996 L378.6,994.8 L377.2,993.6 L376,992.4 L374.8,991.1 L373.6,989.9 L372.5,988.7 L371.4,987.4 L370.4,986.2 L369.4,984.9 L368.5,983.6 L367.7,982.3 L367,981 L366.4,979.6 L365.9,978.3 L365.5,976.9 L365.2,975.5 L365,974 L365,972.5 L365.1,970.9 L365.3,969.2 L365.7,967.5 L366.1,965.8 L366.7,964.1 L367.5,962.5 L368.4,961 L369.5,959.4 L370.8,958 L372.1,956.5 L373.5,955.1 L375,953.7 L376.5,952.3 L378.1,951 L379.7,949.7 L381.4,948.4 L383.2,947.2 L385,946 L386.9,944.9 L389,943.8 L391.1,942.7 L393.2,941.7 L395.4,940.8 L397.5,940 L399.6,939.3 L401.8,938.7 L403.9,938.2 L406,937.7 L408.1,937.3 L410,937 L411.8,936.7 L413.5,936.4 L415.2,936.2 L416.8,936 L418.4,936 L420,936 L421.7,936.1 L423.3,936.4 L425,936.8 L426.7,937.1 L428.3,937.6 L430,938 L431.7,938.4 L433.3,938.9 L435,939.5 L436.7,940 L438.3,940.5 L440,941 L441.7,941.5 L443.3,942 L445,942.5 L446.7,943 L448.3,943.4 L450,943.7 L451.8,944 L453.7,944.1 L455.6,944.3 L457.4,944.4 L458.9,944.4 L460,944.5 L600,944.5 L600,1200Z" fill="#fef5c6"/>
<path d="M137.5,1068.7 C136.2,1060.2 139.8,1066.6 141,1067 C142.2,1067.4 143.5,1068.8 144.5,1071 C145.5,1073.2 146.1,1077.0 147,1080 C147.9,1083.0 148.2,1086.0 150,1088.7 C151.8,1091.4 154.6,1093.7 157.5,1096 C160.4,1098.3 164.4,1100.2 167.5,1102.5 C170.6,1104.8 173.8,1107.5 176,1110 C178.2,1112.5 179.8,1114.8 181,1117.5 C182.2,1120.2 183.0,1123.5 183,1126 C183.0,1128.5 182.3,1131.0 181,1132.5 C179.7,1134.0 177.7,1134.7 175,1135 C172.3,1135.3 167.7,1135.2 165,1134.5 C162.3,1133.8 160.4,1132.4 158.7,1131 C157.0,1129.6 156.0,1127.8 155,1126 C154.0,1124.2 153.6,1121.3 152.5,1120 C151.4,1118.7 151.2,1126.5 148.7,1118 C146.2,1109.5 138.8,1077.2 137.5,1068.7Z" fill="#fbcb8b"/>
</g>
<path d="M407.8,79.3 L416.6,83.6 L409.2,96 L400.2,91.6Z" fill="#fff" stroke="#1f2a33" stroke-width="1.6" stroke-linejoin="miter"/>
<g fill="none" stroke="#46a7d4" stroke-width="1.05" stroke-linejoin="round" stroke-linecap="round">
<path d="M455,93.3 L458.3,103.3 L466.7,113.3 L473.3,123.3 L481.7,131.7 L486.7,140 L493.3,146.7 L496.7,160 L498.3,170 L500,176.7 L510,175 L523.3,176"/>
<path d="M446.7,137.3 L460,139.3 L476.7,143.3 L490,145 L496.7,150"/>
<path d="M440,153.3 L450,160 L463.3,161.7 L476.7,165 L493.3,170 L500,176"/>
<path d="M498.3,176.7 L500,190 L503.3,203.3 L506.7,216.7 L508.3,233.3 L510,250"/>
<path d="M471.7,196.7 L480,206.7 L486.7,216.7 L496.7,230 L503.3,240 L510,250"/>
<path d="M370,87.5 L376.2,93.8 L386.2,97.5 L395,98 L401.2,102"/>
<path d="M323.3,142.7 L331.7,146.7 L340,153.3 L350,158.3 L358.3,163.3 L366.7,170 L376.7,178.3 L386.7,183.3 L396.7,190 L406.7,200 L413.3,213.3 L423.3,223.3 L433.3,230 L440,233.3"/>
<path d="M300,166.7 L306.7,171.7 L315,168.3 L323.3,163.3 L330,158.3 L340,155"/>
<path d="M301.7,171.7 L308.3,178.3 L315,180"/>
<path d="M305,208.3 L313.3,213.3 L323.3,216.7 L331.7,223.3 L336.7,233.3 L343.3,243.3 L353.3,250 L365,253.3 L373.3,256.7 L378.3,266.7 L383.3,276.7 L390,281.7"/>
<path d="M320,255 L328.3,253.3 L335,258.3 L340,265 L346.7,271.7 L353.3,280 L350,286.7"/>
<path d="M340,280 L343.3,286.7"/>
<path d="M413.3,233.3 L421.7,238.3 L430,245 L436.7,251.7 L440,255"/>
<path d="M246.7,280 L253.3,283.3"/>
<path d="M283.3,275 L293.3,276.7 L301.7,281.7"/>
<path d="M406.7,158.3 L420,160 L430,161.7 L440,160"/>
<path d="M246.7,281.7 L253.3,290 L260,300 L266.7,311.7 L271.7,321.7 L280,328.3 L291.7,331.7 L303.3,336.7 L313.3,345 L323.3,355 L333.3,361.7 L343.3,368.3 L356.7,376.7 L370,386.7 L383.3,396.7"/>
<path d="M296.7,286.7 L306.7,296.7 L316.7,303.3 L328.3,308.3 L336.7,316.7 L341.7,326.7 L346.7,336.7 L356.7,345 L366.7,351.7 L376.7,360 L386.7,370"/>
<path d="M336.7,283.3 L346.7,290 L355,303.3 L363.3,313.3 L370,318.3"/>
<path d="M343.3,280 L350,288.3 L356.7,300 L363.3,308.3"/>
<path d="M366.7,308.3 L376.7,316.7 L386.7,330"/>
<path d="M250,365 L260,366.7 L270,371.7 L280,376.7 L290,381.7 L300,388.3 L308.3,395 L315,403.3 L320,413.3 L328.3,421.7 L336.7,430 L338.3,443.3"/>
<path d="M258.3,346.7 L265,358.3 L271.7,370"/>
<path d="M226.7,410 L236.7,415 L246.7,418.3 L256.7,423.3 L265,431.7"/>
<path d="M276.7,413.3 L283.3,423.3 L290,433.3"/>
<path d="M220,390 L223.3,398.3 L225,408.3"/>
<path d="M446.7,256.7 L451.7,270 L460,280 L466.7,290 L476.7,300 L486.7,310 L495,320 L500,326.7"/>
<path d="M511.7,256.7 L513.3,270 L516.7,280 L521.7,288.3"/>
<path d="M393.3,281.7 L410,288.3 L426.7,295 L443.3,298.3 L455,305 L461.7,316.7 L468.3,326.7 L475,336.7 L480,343.3"/>
<path d="M380,330 L390,338.3 L400,346.7 L410,356.7 L420,365 L430,371.7 L440,378.3 L453.3,383.3 L463.3,383.3 L471.7,388.3"/>
<path d="M380,370 L386.7,380 L396.7,390 L403.3,403.3 L406.7,416.7 L413.3,430"/>
<path d="M380,396.7 L390,406.7 L400,420 L403.3,430"/>
<path d="M178.3,448.3 L185,455 L188.3,463.3 L185,471.7 L181.7,480 L186.7,486.7 L193.3,493.3 L200,498.3 L210,503.3 L220,510 L228.3,516.7 L233.3,526.7 L235,536.7 L236.7,546.7"/>
<path d="M183.3,471.7 L191.7,470 L196.7,473.3"/>
<path d="M163.3,516.7 L165,506.7 L170,498.3 L175,491.7 L183.3,495 L191.7,498.3"/>
<path d="M261.7,433.3 L270,443.3 L273.3,455 L278.3,465 L286.7,471.7 L296.7,476.7 L306.7,483.3 L316.7,491.7 L326.7,498.3"/>
<path d="M296.7,440 L301.7,453.3 L303.3,466.7 L308.3,480 L315,493.3 L323.3,503.3"/>
<path d="M236.7,503.3 L246.7,505 L256.7,506.7 L266.7,511.7 L276.7,516.7"/>
<path d="M183.3,545 L193.3,543.3 L203.3,546.7 L213.3,550 L221.7,555 L230,558.3 L236.7,566.7 L245,571.7 L253.3,575 L263.3,573.3 L273.3,570 L283.3,566.7 L293.3,565"/>
<path d="M166.7,566.7 L173.3,571.7 L183.3,573.3 L193.3,573.3 L203.3,578.3 L210,586.7 L213.3,596.7 L221.7,603.3 L233.3,605 L245,603.3 L255,601.7 L263.3,608.3 L273.3,616.7 L283.3,623.3"/>
<path d="M256.7,575 L258.3,583.3 L260,591.7"/>
<path d="M153.3,605 L161.7,611.7 L168.3,620 L175,626.7"/>
<path d="M320,473.3 L323.3,483.3 L330,493.3"/>
<path d="M312.5,500 L320,510 L327.5,517.5 L335,515 L347.5,516.2 L353.8,522.5 L357.5,530 L360,540 L365,547.5 L368.8,553.8"/>
<path d="M310,523.8 L315,532.5 L317.5,542.5 L322.5,550 L330,557.5 L337.5,565 L345,570 L350,575"/>
<path d="M300,572.5 L312.5,577.5 L325,580 L337.5,583.8 L347.5,587.5"/>
<path d="M168.3,620 L180,630 L190,640 L200,650 L205,661.7 L210,670 L218.3,678.3 L226.7,686.7 L236.7,693.3 L245,700 L253.3,706.7 L256.7,716.7 L258.3,726.7 L270,730 L280,735 L290,740 L295,748.3 L296.7,756.7 L303.3,760"/>
<path d="M235,695 L240,700 L248.3,701.7 L256.7,700 L253.3,706.7"/>
<path d="M180,663.3 L185,676.7 L188.3,690 L191.7,703.3 L198.3,713.3 L206.7,723.3 L211.7,731.7 L223.3,733.3 L230,728.3 L240,733.3 L245,735"/>
<path d="M158.3,695 L165,705 L171.7,716.7 L178.3,726.7 L183.3,736.7 L188.3,750 L191.7,763.3 L193.3,776.7 L191.7,790"/>
<path d="M220,745 L221.7,756.7 L225,770 L228.3,780 L231.7,793.3"/>
<path d="M283.3,620 L293.3,626.7 L300,636.7 L303.3,646.7 L310,656.7 L315,666.7 L320,671.7 L326.7,670 L330,673.3"/>
<path d="M245,885 L252.5,890 L260,887.5 L270,890 L280,891.2"/>
<path d="M260,900 L255,907.5 L251.2,917.5 L252.5,925 L257.5,930 L263.8,935 L266.2,941.2"/>
<path d="M250,920 L255,927.5 L260,932.5 L265,931.2 L262.5,926.2 L256.2,925"/>
<path d="M141.2,892.5 L137.5,902.5 L132.5,912.5 L130,920"/>
<path d="M191.2,927.5 L188.8,935 L185,942.5 L182.5,950 L180,956.2 L175,960"/>
<path d="M187.5,810 L190,817.5 L188.8,822.5"/>
<path d="M240,810 L235,820 L230,830 L226.2,840 L225,848.8"/>
<path d="M240,841.2 L247.5,837.5 L255,835 L262.5,830 L270,828.8 L280,827.5"/>
<path d="M230,780 L233.3,793.3 L238.3,806.7"/>
<path d="M190,780 L188.3,793.3 L190,806.7"/>
<path d="M211.7,960 L210,966.7 L211.7,980"/>
<path d="M302.5,812.5 L310,810 L316.2,803.8 L321.2,808.8 L327.5,806.2 L333.8,810 L340,807.5 L346.2,812.5 L351.2,805 L353.8,811.2 L360,815 L366.2,818.8 L372.5,823.8 L378.8,825 L382.5,822.5"/>
<path d="M305,816.2 L312.5,815 L320,813.8 L326.2,817.5 L332.5,820 L338.8,816.2 L343.8,821.2 L350,818.8 L355,822.5 L361.2,826.2 L367.5,828.8 L375,827.5"/>
<path d="M358.8,787.5 L360.5,795 L358,801.2 L362.5,802.5 L367.5,805 L368,812.5 L366.2,818.8"/>
<path d="M348.8,798.8 L351.2,805"/>
<path d="M342.5,830 L348.8,826.2 L355,830 L360,832.5"/>
<path d="M330,808.8 L333.8,815 L340,813.8 L337.5,818.8"/>
<path d="M305,828.8 L312.5,825 L315,820"/>
<path d="M305,761.2 L312.5,756.2 L320,755 L326.2,756.2 L332.5,750 L338.8,745 L342.5,738.8 L347.5,735"/>
<path d="M170,970 L166.7,983.3 L161.7,996.7 L153.3,1005 L146.7,1011.7 L143.3,1020"/>
<path d="M210,970 L209.3,986.7 L206.7,1003.3 L205,1020 L201.7,1033.3 L196.7,1040"/>
<path d="M191.7,1006.7 L196.7,1005 L199.3,1011.7 L196.7,1020 L195,1030 L191.7,1025 L188.3,1026.7 L185,1020 L186.7,1013.3 L191.7,1006.7"/>
<path d="M231.7,1033.3 L236.7,1036.7 L241.7,1041.7 L238.3,1050 L235,1048.3 L231.7,1041.7 L231.7,1033.3"/>
<path d="M236.7,1050 L236,1060 L235,1070 L236.7,1080 L238.3,1086.7"/>
<path d="M210,1038.3 L205,1048.3 L198.3,1058.3 L205,1065 L208.3,1073.3 L210,1083.3 L211.7,1093.3 L215,1101.7"/>
<path d="M146.7,1065 L155,1073.3 L163.3,1080 L171.7,1088.3 L178.3,1096.7 L183.3,1101.7 L180,1103.3 L178.3,1098.3"/>
<path d="M145,1055 L160,1050 L173.3,1048.3 L186.7,1050"/>
<path d="M241.7,976.7 L250,978.3 L260,976.7 L270,980 L281.7,981.7"/>
<path d="M285,986.7 L293.3,995 L303.3,1000 L313.3,1003.3"/>
<path d="M313.3,1003.3 L316.7,1016.7 L313.3,1028.3"/>
<path d="M325,805 L328.8,810 L332.5,806.2 L336.2,811.2 L340,808.8 L342.5,813.8 L338.8,817.5 L333.8,816.2 L330,812.5 L326.2,816.2 L323.8,812.5"/>
<path d="M347.5,800 L350,805 L348.8,810 L352.5,813.8 L355,810 L357.5,813.8 L356.2,818.8 L360,821.2 L363.8,818.8 L366.2,822.5 L363.8,826.2 L367.5,828.8 L371.2,826.2 L375,828.8"/>
<path d="M358.8,787.5 L361.2,791.2 L359.5,796.2 L357.5,800 L361.2,802.5 L366.2,803.8 L368,808.8 L367,815 L365,818.8"/>
<path d="M342.5,830 L346.2,826.2 L350,828.8 L353.8,831.2 L357.5,830 L360,832.5"/>
<path d="M295,812.5 L298.8,815 L302.5,811.2 L306.2,813.8 L310,810 L315,805 L317.5,802.5 L320,806.2 L322.5,810"/>
<path d="M380,823.8 L382.5,817.5 L380,816.2 L378.8,820"/>
<path d="M280,828.8 L285,826.2 L290,828.8 L295,831.2 L300,830 L305,828.8 L310,826.2 L313.8,822.5 L315,818.8"/>
<path d="M280,836.2 L285,838.8 L291.2,837.5 L297.5,832.5 L303.8,830"/>
<path d="M402.5,420 L412.5,430 L417.5,440 L422.5,447.5 L427.5,453.7 L435,457.5"/>
<path d="M417.5,420 L422.5,427.5 L430,430 L431,440 L430,450 L433.7,456"/>
<path d="M440,232.5 L443,241 L446.5,256"/>
</g>
<g fill="none" stroke="#60b7e0" stroke-width="1.1" stroke-linejoin="round" stroke-linecap="round">
<path d="M171.2,822.5 L176.2,821.2 L183.8,822.5 L190,821.2 L197.5,820 L205,823.8 L212.5,826.2 L213.8,832.5 L212.5,840 L210,845 L213.8,848.8 L218.8,847.5 L225,848.8 L226.2,855 L222.5,858.8 L218.8,857.5 L213.8,853.8 L210,856.2 L208.8,863.8 L205,868.8 L200,871.2 L196.2,873.8 L190,877.5 L183.8,880 L180,883.8 L178.8,890 L175,890 L173.8,885 L170,881.2 L167.5,885 L162.5,887.5 L157.5,890 L152.5,893.8 L148.8,897.5 L145,895 L141.2,892.5 L145,887.5 L148.8,882.5 L151.2,877.5 L148.8,871.2 L148.8,863.8 L151.2,857.5 L155,851.2 L157.5,845 L162.5,842.5 L167.5,846.2 L171.2,851.2 L175,857.5 L178.8,857.5 L177.5,850 L176.2,842.5 L175,835 L173.8,827.5 L171.2,822.5"/>
<path d="M196.2,862.5 L201.2,861.2 L205,865 L202.5,870 L197.5,868.8 L196.2,862.5"/>
<path d="M247.5,862.5 L251.2,863.8 L250,870 L246.2,877.5 L242.5,885 L237.5,895 L233.8,905 L230,915 L226.2,925 L222.5,935 L218.8,945 L215,948.8 L213.8,942.5 L213.8,933.8 L216.2,925 L218.8,915 L222.5,905 L226.2,895 L230,885 L235,877.5 L241.2,871.2 L245,866.2 L247.5,862.5"/>
<path d="M221.2,927.5 L225,923.8 L226.2,926.2 L222.5,931.2 L221.2,927.5"/>
</g>
<g fill="none" stroke="#60b7e0" stroke-width="1.1" stroke-linejoin="round">
<path d="M95,839.5 L91,845 L90.5,855 L92.5,862.5 L92,872.5 L95,882.5 L94.5,890 L97.5,897.5 L102.5,900 L101,905 L98.7,912.5 L100,921 L103.7,925 L110,930 L112.5,937.5 L111,945 L110,950 L113.7,953.7 L116,960 L118.7,967.5 L120,975 L123.7,980 L125.5,987.5 L127.5,997.5 L131,1007.5 L136,1015 L141,1022.5 L143.7,1030 L146,1037.5 L152.5,1041 L157.5,1046 L155,1052.5 L148.7,1053.7 L143.7,1056 L146,1062.5 L150,1067.5 L143.7,1068.7 L136,1067 L140,1071 L139.5,1076 L141,1082.5 L145,1088.7 L148.7,1095 L152.5,1101 L153.7,1107.5 L156,1113.7 L157,1118.7 L153.7,1123.7 L152.5,1128.7 L153.7,1133.7 L150,1137.5 L150,1140 L156,1140 L162.5,1142.5 L170,1145 L176,1143.7 L182.5,1141 L190,1139.5 L197.5,1140 L205,1141 L210,1141 L216,1137.5 L220,1130 L217.5,1120 L215,1110 L217.5,1102.5 L223.7,1095 L230,1090 L235,1092.5 L237.5,1088.7 L235,1082.5 L240,1081 L250,1081.7 L260,1082 L267.5,1083.7 L271,1080 L276,1078.7 L280,1082.5 L285,1081 L290,1083.7 L293.7,1076 L297.5,1067.5 L301,1057.5 L305,1050 L307.5,1045 L312.5,1037.5 L315,1027.5 L317.5,1017.5 L318.7,1007.5 L316,1000 L317.5,991 L321,983.7 L323.7,975 L322.5,965 L323.7,957.5 L321,948.7 L316,943.7 L322.5,941 L325,935 L326,925 L328.7,915 L330,906 L330,900 L332.5,893.7 L325,891 L330,882.5 L337.5,881 L342.5,876 L350,872.5 L357.5,866 L361,860 L361,850 L363.7,841 L367,850 L368.7,860 L371,865 L375,855 L380,847.5 L387.5,841 L392.5,835 L390,827.5 L386,822.5 L391,817.5 L395,810 L400,802.5 L405,795 L410,790 L416,786 L417.5,780 L412.5,775 L406,772.5 L402.5,765 L398.7,757.5 L393.7,750 L390,743.7 L386,740 L380,735 L375,728.7 L372.5,722.5 L368.7,723.7 L363.7,727.5 L360,726 L356,718.7 L350,719.5 L343.7,717.5 L345,713.7 L342.5,705 L340,695 L340.5,685 L338.7,672.5 L340,662.5 L339.5,652 L340,643 L337.5,637 L340,635 L343,640 L350,638 L348,633 L345,627 L343.7,622.5 L345,615 L346,607.5 L350,600 L353.7,592.5 L351,586 L350,580 L353.7,575 L357.5,570 L362.5,566 L367.5,562.5 L368.7,555 L371,548.7 L375,542.5 L378.7,537.5 L385,532.5 L388.7,527.5 L386,522.5 L390,517.5 L395,513.7 L401,510 L407.5,505 L411,497.5 L417.5,491 L423.7,487.5 L430,482.5 L436,478.7 L443.7,472.5 L451,466 L457.5,458.7 L462.5,450 L467.5,440 L472.5,430 L477.5,420 L482.5,416 L486,410 L487.5,405 L485,400 L481,394.5 L477.5,393.7 L475,390 L473.7,383.7 L470,380 L465.5,376 L467.5,373.7 L472.5,370 L476,362.5 L480,353.7 L481,345 L482.5,337.5 L477.5,332.5 L480,328.7 L487.5,327.5 L492.5,322.5 L490,320 L495,317.5 L500,312.5 L502.5,307.5 L503.7,300 L505,291 L510,297.5 L512.5,292.5 L513.7,286 L517.5,292.5 L522.5,295 L527.5,297.5 L530,292.5 L537.5,290 L545,287.5 L550,288.7 L560,285.5"/>
<path d="M342.5,984 L344,988 L341,997 L338.5,1006 L335,1016 L331.5,1026 L329.5,1034 L327,1044 L323.5,1055 L320,1064 L316,1072 L313,1077 L311.5,1070 L312.5,1060 L315,1050 L319,1040 L324,1030 L328.7,1020 L332.5,1010 L335,1000 L337.5,992 L340,986Z"/>
<path d="M413.7,937.5 L420,937 L425,940 L426,945 L423.7,950 L419.5,952.5 L416,956 L415.5,965 L415,972.5 L418.7,975 L422,978.7 L419.5,981 L413.7,985 L411,991 L407.5,995 L402.5,998.7 L398.7,1005 L395,1006 L391,1003.7 L388.7,997.5 L386,990 L387.5,982.5 L387,972.5 L386,967.5 L391,961 L396,955 L398.7,948.7 L403.7,943.7 L410,941Z"/>
<path d="M426,937.5 L428.7,931 L433.7,929.5 L437.5,931 L436,935 L431,937 L427.5,940Z"/>
<path d="M391,1005 L396,1006 L398.7,1010 L397.5,1015 L393.7,1018.7 L389.5,1019.5 L388,1016 L389.5,1010Z"/>
<ellipse cx="403.7" cy="755" rx="1.5" ry="2.5" transform="rotate(-20 403.7 755)" />
<ellipse cx="407.5" cy="765" rx="1.5" ry="4.5" transform="rotate(-20 407.5 765)" />
<ellipse cx="412" cy="790" rx="6" ry="2" transform="rotate(-10 412 790)" />
<ellipse cx="409" cy="800" rx="4" ry="2" transform="rotate(-35 409 800)" />
<ellipse cx="401" cy="810" rx="4.5" ry="2" transform="rotate(-35 401 810)" />
<ellipse cx="406" cy="812.5" rx="3" ry="1.5" transform="rotate(-30 406 812.5)" />
<ellipse cx="411" cy="816" rx="2" ry="1.5" />
<ellipse cx="395" cy="825" rx="5" ry="4" transform="rotate(30 395 825)" />
<ellipse cx="407.5" cy="828.7" rx="1.5" ry="2.5" />
<ellipse cx="405" cy="835" rx="2" ry="1.5" transform="rotate(-30 405 835)" />
<ellipse cx="394" cy="846" rx="2.5" ry="3.5" transform="rotate(20 394 846)" />
<ellipse cx="382.5" cy="851" rx="3" ry="1.5" transform="rotate(-20 382.5 851)" />
<ellipse cx="388" cy="855" rx="3.5" ry="1.5" transform="rotate(-30 388 855)" />
<ellipse cx="431" cy="899.5" rx="3.5" ry="2.5" transform="rotate(20 431 899.5)" />
<ellipse cx="517" cy="297" rx="1.4" ry="1.6" />
<ellipse cx="522" cy="298" rx="1.4" ry="2.8" transform="rotate(-10 522 298)" />
<ellipse cx="548" cy="294" rx="1.6" ry="1.4" />
<ellipse cx="512" cy="310" rx="2" ry="1.4" transform="rotate(-20 512 310)" />
<ellipse cx="503" cy="314" rx="1.5" ry="1.5" />
<ellipse cx="501" cy="320" rx="1.4" ry="1.4" />
<ellipse cx="508" cy="319" rx="2.4" ry="1.1" transform="rotate(-30 508 319)" />
<ellipse cx="486" cy="337" rx="1.8" ry="1.8" />
<ellipse cx="489.5" cy="339.5" rx="1.3" ry="1.3" />
<ellipse cx="484" cy="342" rx="1.4" ry="1.4" />
<ellipse cx="466.3" cy="463" rx="1.3" ry="3.8" transform="rotate(10 466.3 463)" />
<ellipse cx="390.8" cy="523.5" rx="1" ry="2" transform="rotate(30 390.8 523.5)" />
<ellipse cx="357" cy="577" rx="1.5" ry="1.2" />
<ellipse cx="347" cy="645" rx="2" ry="1.2" />
<ellipse cx="347.5" cy="577" rx="2.3" ry="5" />
<path d="M103.3,893.3 L107.5,890.8 L109.2,895 L106.7,901.7 L104.2,905 L102.5,901.7Z"/>
<path d="M98.3,913.3 L105,910 L113.3,907.5 L115.8,911.7 L115,916.7 L108.3,920 L101.7,920.8 L98.3,917.5Z"/>
<path d="M101.7,924.2 L110,921.7 L112.5,925 L110,930 L103.3,930Z"/>
</g>
<path d="M560,285.5 L558,278.7 L556,273.7 L552.5,268.7 L550,262.5 L546,258.7 L542.5,255 L541,247.5 L537.5,242.5 L538.7,235 L543,227.5 L542.5,217.5 L545.5,208.7 L543.7,202.5 L540,196 L535,187.5 L528.7,180 L527.5,175 L531,168.7 L532,162.5 L530,158.7 L522.5,156 L521,150 L519.5,140 L520,132.5 L523.7,123.7 L523,117.5 L516,111 L510,103.7 L505,97.5 L502.5,90 L492.5,82.5 L483.7,80 L475,78.7 L467.5,75 L457.5,67.5 L448.7,60 L442.5,53.7 L434.5,47.5 L433,41.2 L420,37 L409.5,40 L413.7,47.5 L415.7,56 L414.5,63.7 L411,72.5 L407.5,79.5 L400,91 L391,87.5 L378.7,83.7 L370,85 L363,79.5 L355.5,83 L355,92.5 L357,100 L355.5,110 L350,128.7 L330,118.7 L313.7,135 L311.7,143 L309,155 L306,163 L296.7,166.7 L294.7,172.5 L299,181.7 L303,188 L305,193 L304,203 L293.7,216 L283.7,235 L272.5,248.7 L275.5,265 L261,276 L245.5,278 L242.5,271 L245.5,278 L246,292.5 L245.5,307.5 L243,325 L242,343.7 L236,355 L235,360 L228.7,370 L223.7,380 L217.5,390 L212.5,402.5 L226,410 L227.5,422.5 L227,437.5 L220,448 L207.5,443.7 L195,440 L180,446 L167.5,462.5 L155,478.7 L156,488.7 L147.5,503.7 L148.7,510 L154.5,525 L150,535 L151,547.5 L147.5,558.7 L150,570 L153.7,582.5 L153.7,597.5 L150,612.5 L146,628.7 L157.5,642.5 L162.5,642.5 L167.5,650 L172.5,660 L171,668.7 L165.5,676 L161,685 L146,686 L150,697.5 L155,712.5 L158.7,725 L157.5,735 L153.7,745 L154.5,757.5 L150,767.5 L142.5,773.7 L132.5,776 L127,778.7 L127.5,786 L125.5,793.7 L120,797.5 L118.7,805 L120,817.5 L121,830 L117.5,842.5 L113,853.7 L105,855.5 L103.7,847.5 L100,838.7 L95,839.5" fill="none" stroke="#1f2a33" stroke-width="1.7" stroke-linejoin="round" stroke-linecap="round"/>
<g fill="none" stroke="#10161c" stroke-width="1.3" stroke-linecap="round" stroke-linejoin="round">
<path d="M421.2,29 C421.5,30.8 423.0,36.3 423,40 C423.0,43.7 422.1,47.2 421.2,51 C420.3,54.8 419.2,58.5 417.5,62.5 C415.8,66.5 413.3,70.8 411,75 C408.7,79.2 406.4,83.8 403.7,87.5 C401.0,91.2 398.1,94.2 395,97.5 C391.9,100.8 387.9,104.2 385,107.5 C382.1,110.8 379.4,114.2 377.5,117.5 C375.6,120.8 374.6,124.1 373.5,127.5 C372.4,130.9 371.2,134.2 371,138 C370.8,141.8 371.2,146.8 372,150 C372.8,153.2 374.1,154.8 376,157.5 C377.9,160.2 381.7,163.1 383.7,166 C385.7,168.9 387.6,171.8 388,175 C388.4,178.2 387.3,181.9 386,185 C384.7,188.1 382.5,191.3 380,193.7 C377.5,196.1 374.2,198.3 371,199.5 C367.8,200.7 364.1,201.1 361,201 C357.9,200.9 355.6,200.5 352.5,198.7 C349.4,196.9 345.4,193.5 342.5,190 C339.6,186.5 337.4,181.3 335,177.5 C332.6,173.7 330.5,169.9 328,167 C325.5,164.1 322.7,162.5 320,160 C317.3,157.5 314.8,154.8 312,152 C309.2,149.2 304.5,144.5 303,143"/>
<path d="M526,133.7 C525.2,134.3 522.8,135.8 521,137.5 C519.2,139.2 517.0,141.2 515,143.7 C513.0,146.2 510.4,149.4 508.7,152.5 C507.0,155.6 506.0,158.8 505,162.5 C504.0,166.2 503.6,170.8 502.5,175 C501.4,179.2 500.2,183.8 498.7,187.5 C497.2,191.2 495.6,195.0 493.7,197.5 C491.8,200.0 489.8,201.5 487.5,202.5 C485.2,203.5 482.9,203.9 480,203.7 C477.1,203.4 473.2,202.4 470,201 C466.8,199.6 463.5,197.7 461,195 C458.5,192.3 456.5,188.8 455,185 C453.5,181.2 452.8,177.1 452,172.5 C451.2,167.9 451.1,162.5 450.5,157.5 C449.9,152.5 449.8,147.1 448.7,142.5 C447.6,137.9 445.8,133.4 443.7,130 C441.6,126.6 438.9,124.2 436,122 C433.1,119.8 429.3,118.1 426,117 C422.7,115.9 420.3,115.4 416,115.6 C411.7,115.8 404.7,116.9 400,118 C395.3,119.1 391.3,120.0 388,122 C384.7,124.0 381.8,127.3 380,130 C378.2,132.7 377.3,135.3 377,138 C376.7,140.7 376.8,143.3 378,146 C379.2,148.7 381.6,151.7 384,154 C386.4,156.3 389.8,158.2 392.5,160 C395.2,161.8 398.3,162.5 400,165 C401.7,167.5 402.1,171.7 402.5,175 C402.9,178.3 403.1,180.8 402.5,185 C401.9,189.2 399.9,195.0 398.7,200 C397.4,205.0 395.7,210.0 395,215 C394.3,220.0 393.9,225.0 394.5,230 C395.1,235.0 396.5,240.0 398.7,245 C400.9,250.0 404.4,255.0 407.5,260 C410.6,265.0 414.6,270.7 417.5,275 C420.4,279.3 422.9,283.4 425,286 C427.1,288.6 427.5,290.1 430,290.5 C432.5,290.9 435.8,289.6 440,288.7 C444.2,287.8 450.0,286.3 455,285 C460.0,283.7 464.2,283.1 470,281 C475.8,278.9 483.8,275.0 490,272.5 C496.2,270.0 502.1,267.2 507.5,266 C512.9,264.8 517.9,264.8 522.5,265.5 C527.1,266.2 530.8,267.8 535,270 C539.2,272.2 544.2,276.4 547.5,278.7 C550.8,281.0 552.9,282.6 555,283.7 C557.1,284.8 559.2,285.2 560,285.5"/>
<path d="M560,285.5 L556,256"/>
<path d="M380,139 C380.3,137.3 381.3,134.7 383,133 C384.7,131.3 386.8,130.0 390,129 C393.2,128.0 397.7,127.0 402,127 C406.3,127.0 412.0,127.8 416,129 C420.0,130.2 423.7,131.8 426,134 C428.3,136.2 429.2,138.3 430,142 C430.8,145.7 430.7,151.3 431,156 C431.3,160.7 431.6,165.7 431.6,170 C431.6,174.3 431.4,179.0 431,182 C430.6,185.0 430.0,186.7 429,188 C428.0,189.3 426.5,190.3 425,190 C423.5,189.7 421.5,188.0 420,186 C418.5,184.0 417.3,181.3 416,178 C414.7,174.7 413.7,169.7 412,166 C410.3,162.3 408.7,158.7 406,156 C403.3,153.3 399.3,151.7 396,150 C392.7,148.3 388.5,147.2 386,146 C383.5,144.8 382.0,144.2 381,143 C380.0,141.8 379.7,140.7 380,139Z"/>
<path d="M350,157.5 C350.8,155.6 352.9,153.3 355,152.5 C357.1,151.7 360.0,151.2 362.5,152.5 C365.0,153.8 367.8,156.9 370,160 C372.2,163.1 375.2,167.9 376,171 C376.8,174.1 376.2,176.9 375,178.7 C373.8,180.5 371.0,181.8 368.7,182 C366.4,182.2 363.3,181.6 361,180 C358.7,178.4 356.8,175.2 355,172.5 C353.2,169.8 350.8,166.2 350,163.7 C349.2,161.2 349.2,159.4 350,157.5Z"/>
<path d="M346,92.5 C347.1,92.0 350.2,90.4 352.5,89.5 C354.8,88.6 358.2,86.9 360,87 C361.8,87.1 362.7,88.2 363,90 C363.3,91.8 362.9,95.3 362,97.5 C361.1,99.7 359.1,101.8 357.5,103 C355.9,104.2 354.1,104.9 352.5,105 C350.9,105.1 348.8,103.9 348,103.7"/>
<path d="M291,181 C293.1,182.7 299.5,187.4 303.7,191 C307.9,194.6 311.8,198.5 316,202.5 C320.2,206.5 325.5,211.4 328.7,215 C331.9,218.6 333.5,221.0 335,224 C336.5,227.0 337.3,229.7 337.5,233 C337.7,236.3 337.1,240.2 336,244 C334.9,247.8 332.7,252.0 331,256 C329.3,260.0 327.0,264.0 326,268 C325.0,272.0 324.5,276.2 325,280 C325.5,283.8 326.2,287.7 329,291 C331.8,294.3 337.2,297.8 342,300 C346.8,302.2 353.5,302.0 358,304 C362.5,306.0 366.6,309.2 369,312 C371.4,314.8 372.3,318.0 372.5,321 C372.7,324.0 371.8,327.2 370,330 C368.2,332.8 365.7,335.5 362,338 C358.3,340.5 353.3,342.6 348,345 C342.7,347.4 335.5,350.2 330,352.5 C324.5,354.8 320.0,357.4 315,358.7 C310.0,359.9 305.8,360.2 300,360 C294.2,359.8 285.8,358.6 280,357.5 C274.2,356.4 268.6,355.4 265,353.7 C261.4,352.0 259.8,349.8 258.7,347.5 C257.6,345.2 257.6,342.8 258.7,340 C259.8,337.2 261.9,333.7 265,331 C268.1,328.3 273.8,326.2 277.5,323.7 C281.2,321.2 285.2,318.7 287.5,316 C289.8,313.3 290.8,310.4 291,307.5 C291.2,304.6 290.5,302.0 288.7,298.7 C286.9,295.4 283.1,291.4 280,287.5 C276.9,283.6 272.5,278.9 270,275 C267.5,271.1 265.8,265.8 265,264"/>
<path d="M283.7,220 C285.2,220.6 290.0,222.0 292.5,223.7 C295.0,225.4 297.4,228.1 298.7,230 C300.0,231.9 300.7,233.6 300.5,235 C300.3,236.4 299.2,238.1 297.5,238.7 C295.8,239.3 292.5,239.3 290,238.7 C287.5,238.1 284.6,236.3 282.5,235 C280.4,233.7 278.3,231.7 277.5,231"/>
<path d="M245.5,278 C246.7,280.0 250.1,285.9 252.5,290 C254.9,294.1 258.3,298.8 260,302.5 C261.7,306.2 262.9,308.8 262.5,312.5 C262.1,316.2 259.2,320.8 257.5,325 C255.8,329.2 253.6,333.3 252.5,337.5 C251.4,341.7 250.8,346.2 251,350 C251.2,353.8 252.2,356.7 253.7,360 C255.2,363.3 257.7,366.7 260,370 C262.3,373.3 265.0,376.7 267.5,380 C270.0,383.3 272.5,386.7 275,390 C277.5,393.3 278.8,397.0 282.5,400 C286.2,403.0 291.6,405.7 297,408 C302.4,410.3 309.5,412.4 315,414 C320.5,415.6 324.5,416.3 330,417.5 C335.5,418.7 342.2,420.2 348,421 C353.8,421.8 358.8,422.7 365,422.5 C371.2,422.3 379.2,421.1 385,420 C390.8,418.9 395.8,417.2 400,416 C404.2,414.8 407.3,414.3 410,412.5 C412.7,410.7 414.8,407.9 416,405 C417.2,402.1 417.9,398.8 417.5,395 C417.1,391.2 415.4,387.1 413.7,382.5 C412.0,377.9 409.4,372.5 407.5,367.5 C405.6,362.5 403.1,357.1 402.5,352.5 C401.9,347.9 402.4,343.8 403.7,340 C404.9,336.2 407.3,332.2 410,330 C412.7,327.8 415.8,327.3 420,327 C424.2,326.7 430.4,327.5 435,328 C439.6,328.5 444.2,328.7 447.5,330 C450.8,331.3 452.1,334.0 455,336 C457.9,338.0 461.7,340.6 465,342 C468.3,343.4 472.3,344.5 475,344.5 C477.7,344.5 479.2,343.4 481,342 C482.8,340.6 484.1,338.4 486,336 C487.9,333.6 490.2,331.0 492.5,327.5 C494.8,324.0 497.5,319.2 500,315 C502.5,310.8 505.0,306.2 507.5,302.5 C510.0,298.8 512.5,294.6 515,292.5 C517.5,290.4 519.6,290.2 522.5,290 C525.4,289.8 528.8,290.4 532.5,291 C536.2,291.6 540.4,293.0 545,293.7 C549.6,294.4 555.4,295.0 560,295 C564.6,295.0 569.6,294.9 572.5,293.7 C575.4,292.4 576.7,288.5 577.5,287.5"/>
<path d="M239,296 C239.7,297.3 242.0,301.7 243,304 C244.0,306.3 244.9,306.5 245,310 C245.1,313.5 244.0,319.2 243.7,325 C243.4,330.8 242.9,338.8 243,345 C243.1,351.2 244.1,357.1 244.5,362.5 C244.9,367.9 245.6,373.3 245.5,377.5 C245.4,381.7 244.6,384.6 243.7,387.5 C242.8,390.4 242.1,392.6 240,395 C237.9,397.4 233.5,399.9 231,402 C228.5,404.1 226.5,405.3 225,407.5 C223.5,409.7 222.8,412.5 222,415 C221.2,417.5 220.6,419.8 220.5,422.5 C220.4,425.2 220.8,428.5 221.5,431 C222.2,433.5 223.6,435.8 225,437.5 C226.4,439.2 227.5,439.6 230,441 C232.5,442.4 236.7,444.9 240,446 C243.3,447.1 246.2,448.0 250,447.5 C253.8,447.0 258.8,444.6 262.5,443 C266.2,441.4 268.8,439.3 272.5,438 C276.2,436.7 281.2,435.3 285,435 C288.8,434.7 291.7,435.2 295,436 C298.3,436.8 301.7,438.2 305,440 C308.3,441.8 311.7,444.7 315,447 C318.3,449.3 321.3,452.2 325,454 C328.7,455.8 332.8,457.2 337,458 C341.2,458.8 345.3,458.9 350,458.7 C354.7,458.5 359.6,457.5 365,457 C370.4,456.5 376.7,455.8 382.5,455.5 C388.3,455.2 394.2,454.9 400,455 C405.8,455.1 412.5,455.6 417.5,456 C422.5,456.4 426.5,457.1 430,457.5 C433.5,457.9 436.9,459.4 438.7,458.7 C440.5,457.9 440.4,455.8 441,453 C441.6,450.2 441.7,445.5 442.5,442 C443.3,438.5 444.2,435.5 446,432 C447.8,428.5 450.3,424.7 453,421 C455.7,417.3 459.2,413.2 462,410 C464.8,406.8 467.8,404.5 470,402 C472.2,399.5 473.8,397.4 475,395 C476.2,392.6 476.5,391.2 477,387.5 C477.5,383.8 477.5,377.1 478,372.5 C478.5,367.9 478.8,363.8 480,360 C481.2,356.2 482.9,353.3 485,350 C487.1,346.7 490.0,343.3 492.5,340 C495.0,336.7 497.6,333.0 500,330 C502.4,327.0 504.5,324.5 507,322 C509.5,319.5 512.5,316.7 515,315 C517.5,313.3 519.5,312.5 522,312 C524.5,311.5 526.6,311.3 530,312 C533.4,312.7 538.8,314.5 542.5,316 C546.2,317.5 550.8,320.2 552.5,321"/>
<path d="M206,406 C207.2,405.6 210.7,404.5 213,403.3 C215.3,402.1 217.8,400.9 220,399 C222.2,397.1 224.6,394.3 226,391.7 C227.4,389.1 228.4,385.8 228.7,383.3 C228.9,380.8 228.4,378.2 227.5,376.7 C226.6,375.2 224.8,374.5 223.3,374.2 C221.8,373.9 219.1,374.9 218.3,375"/>
<path d="M147.5,585 C147.7,583.3 148.3,578.5 148.7,575 C149.1,571.5 149.2,567.5 150,563.7 C150.8,560.0 151.9,556.0 153.7,552.5 C155.5,549.0 157.9,545.6 161,542.5 C164.1,539.4 168.5,536.6 172.5,533.7 C176.5,530.8 181.1,528.3 185,525 C188.9,521.7 192.7,516.9 196,513.7 C199.3,510.5 202.1,507.8 205,506 C207.9,504.2 210.8,503.0 213.7,503 C216.6,503.0 219.4,504.2 222.5,506 C225.6,507.8 229.2,511.6 232.5,513.7 C235.8,515.8 238.8,517.6 242.5,518.7 C246.2,519.8 250.4,520.5 255,520.5 C259.6,520.5 264.2,519.3 270,519 C275.8,518.7 283.3,518.1 290,518.5 C296.7,518.9 305.0,520.6 310,521.5 C315.0,522.4 316.7,523.3 320,523.7 C323.3,524.1 327.1,524.5 330,523.7 C332.9,522.9 335.4,521.0 337.5,518.7 C339.6,516.4 340.9,513.1 342.5,510 C344.1,506.9 345.4,502.8 347,500 C348.6,497.2 350.2,494.9 352,493 C353.8,491.1 354.9,490.4 357.5,488.7 C360.1,486.9 364.2,484.2 367.5,482.5 C370.8,480.8 374.6,479.4 377.5,478.7 C380.4,477.9 382.5,477.7 385,478 C387.5,478.3 389.6,479.7 392.5,480.5 C395.4,481.3 398.8,482.6 402.5,483 C406.2,483.4 410.8,483.3 415,483 C419.2,482.7 423.8,482.2 427.5,481 C431.2,479.8 434.4,477.8 437.5,476 C440.6,474.2 443.3,472.2 446,470 C448.7,467.8 451.4,465.4 453.7,462.5 C456.0,459.6 458.1,455.8 460,452.5 C461.9,449.2 463.3,446.1 465,442.5 C466.7,438.9 468.3,434.8 470,431 C471.7,427.2 473.3,423.2 475,420 C476.7,416.8 478.5,414.2 480,412 C481.5,409.8 482.7,407.9 484,406.5 C485.3,405.1 486.5,403.9 488,403.7 C489.5,403.4 491.4,404.1 493,405 C494.6,405.9 495.9,407.2 497.5,409 C499.1,410.8 500.8,413.5 502.5,416 C504.2,418.5 506.7,422.7 507.5,424"/>
<path d="M190.5,558.7 C190.9,556.4 192.1,552.7 193.7,550 C195.3,547.3 197.7,544.6 200,542.5 C202.3,540.4 204.8,538.5 207.5,537.5 C210.2,536.5 213.8,536.1 216,536.7 C218.2,537.3 220.0,539.0 221,541 C222.0,543.0 222.4,546.0 222,548.7 C221.6,551.5 220.1,554.6 218.7,557.5 C217.3,560.4 215.6,563.5 213.7,566 C211.8,568.5 209.6,571.7 207.5,572.5 C205.4,573.3 203.1,571.8 201,571 C198.9,570.2 196.7,568.7 195,567.5 C193.3,566.3 191.8,565.2 191,563.7 C190.2,562.2 190.1,561.0 190.5,558.7Z"/>
<path d="M412.5,538 C411.2,537.9 407.8,538.1 405,537.5 C402.2,536.9 398.7,536.0 396,534.5 C393.3,533.0 390.9,530.6 388.7,528.7 C386.4,526.8 384.4,524.3 382.5,523 C380.6,521.7 378.6,520.7 377,521 C375.4,521.3 374.1,522.9 373,525 C371.9,527.1 371.2,530.4 370.5,533.7 C369.8,537.0 369.2,541.5 368.7,545 C368.2,548.5 368.3,552.3 367.5,555 C366.7,557.7 365.8,559.5 363.7,561 C361.6,562.5 358.5,563.4 355,563.7 C351.5,564.0 347.1,563.5 342.5,563 C337.9,562.5 332.5,561.3 327.5,561 C322.5,560.7 317.1,560.8 312.5,561 C307.9,561.2 303.8,561.8 300,562.5 C296.2,563.2 292.5,563.3 290,565 C287.5,566.7 285.4,569.6 285,572.5 C284.6,575.4 285.0,579.8 287.5,582.5 C290.0,585.2 296.7,586.9 300,589 C303.3,591.1 304.6,592.3 307.5,595 C310.4,597.7 314.2,601.2 317.5,605 C320.8,608.8 324.6,613.8 327.5,617.5 C330.4,621.2 333.4,624.8 335,627.5 C336.6,630.2 337.4,631.6 337,633.7 C336.6,635.8 334.9,637.3 332.5,640 C330.1,642.7 325.8,646.9 322.5,650 C319.2,653.1 316.2,656.0 312.5,658.7 C308.8,661.4 304.6,663.5 300,666 C295.4,668.5 290.8,671.8 285,674 C279.2,676.2 270.8,677.8 265,679 C259.2,680.2 254.6,680.8 250,681 C245.4,681.2 241.2,680.8 237.5,680 C233.8,679.2 230.8,677.5 227.5,676 C224.2,674.5 220.8,672.1 217.5,671 C214.2,669.9 211.2,669.5 207.5,669.5 C203.8,669.5 199.2,669.9 195,671 C190.8,672.1 186.5,673.7 182.5,676 C178.5,678.3 174.8,682.0 171,685 C167.2,688.0 163.5,691.7 160,693.7 C156.5,695.7 152.9,696.4 150,697 C147.1,697.6 143.8,697.4 142.5,697.5"/>
<path d="M116,790.5 C117.1,791.0 120.4,792.0 122.5,793.7 C124.6,795.5 126.8,798.3 128.7,801 C130.6,803.7 131.8,806.8 133.7,810 C135.6,813.2 137.7,816.9 140,820 C142.3,823.1 144.6,826.3 147.5,828.7 C150.4,831.1 154.2,833.3 157.5,834.5 C160.8,835.7 163.8,836.0 167.5,836 C171.2,836.0 175.8,835.6 180,834.5 C184.2,833.4 188.8,831.5 192.5,829.5 C196.2,827.5 199.6,825.1 202.5,822.5 C205.4,819.9 207.9,816.6 210,813.7 C212.1,810.8 213.5,807.0 215,805 C216.5,803.0 217.7,802.0 219,802 C220.3,802.0 221.5,802.8 223,805 C224.5,807.2 226.0,811.5 228,815 C230.0,818.5 232.5,823.1 235,826 C237.5,828.9 240.2,831.5 243,832.5 C245.8,833.5 249.2,833.4 252,832 C254.8,830.6 257.5,827.3 260,824 C262.5,820.7 264.5,816.0 267,812 C269.5,808.0 272.0,803.3 275,800 C278.0,796.7 280.8,793.9 285,792 C289.2,790.1 295.5,789.2 300,788.5 C304.5,787.8 308.7,788.6 312,788 C315.3,787.4 318.5,786.7 320,785 C321.5,783.3 321.4,780.5 321,778 C320.6,775.5 318.9,773.0 317.5,770 C316.1,767.0 313.8,763.2 312.5,760 C311.2,756.8 309.9,753.9 309.5,751 C309.1,748.1 309.1,745.4 310,742.5 C310.9,739.6 312.9,736.0 315,733.7 C317.1,731.4 319.8,729.7 322.5,728.7 C325.2,727.7 328.1,727.1 331,727.5 C333.9,727.9 337.5,729.1 340,731 C342.5,732.9 343.9,735.8 346,738.7 C348.1,741.7 350.4,745.6 352.5,748.7 C354.6,751.8 356.5,755.5 358.7,757.5 C360.9,759.5 363.2,760.7 365.5,761 C367.8,761.3 370.1,760.9 372.5,759.5 C374.9,758.1 377.5,754.8 380,752.5 C382.5,750.2 384.8,747.5 387.5,746 C390.2,744.5 393.1,744.5 396,743.7 C398.9,742.9 402.5,742.7 405,741 C407.5,739.3 409.2,736.0 411,733.7 C412.8,731.5 415.2,728.5 416,727.5"/>
<path d="M73.7,913.7 C75.6,912.9 80.6,910.4 85,908.7 C89.4,907.0 95.0,905.0 100,903.7 C105.0,902.4 110.4,901.7 115,901 C119.6,900.3 123.3,900.5 127.5,899.5 C131.7,898.5 135.8,897.0 140,895 C144.2,893.0 148.8,890.0 152.5,887.5 C156.2,885.0 159.6,881.9 162.5,880 C165.4,878.1 167.9,876.4 170,876 C172.1,875.6 173.3,876.2 175,877.5 C176.7,878.8 177.9,881.5 180,883.7 C182.1,886.0 184.6,888.5 187.5,891 C190.4,893.5 193.8,896.4 197.5,898.7 C201.2,901.0 206.2,903.3 210,905 C213.8,906.7 216.7,907.5 220,909 C223.3,910.5 227.1,911.9 230,913.7 C232.9,915.5 235.0,917.5 237.5,920 C240.0,922.5 242.5,926.2 245,928.7 C247.5,931.2 250.0,933.9 252.5,935 C255.0,936.1 257.8,936.3 260,935.5 C262.2,934.7 264.3,932.6 266,930 C267.7,927.4 268.9,923.3 270,920 C271.1,916.7 271.5,913.3 272.5,910 C273.5,906.7 274.4,902.8 276,900 C277.6,897.2 279.7,894.7 282,893 C284.3,891.3 287.0,890.3 290,890 C293.0,889.7 297.1,890.2 300,891 C302.9,891.8 304.6,893.1 307.5,895 C310.4,896.9 314.2,900.5 317.5,902.5 C320.8,904.5 324.2,906.0 327.5,907 C330.8,908.0 333.8,908.5 337.5,908.7 C341.2,908.9 345.4,908.6 350,908 C354.6,907.4 360.0,906.2 365,905 C370.0,903.8 375.0,902.7 380,901 C385.0,899.3 390.4,897.2 395,895 C399.6,892.8 403.8,890.4 407.5,887.5 C411.2,884.6 414.2,881.2 417.5,877.5 C420.8,873.8 424.2,868.8 427.5,865 C430.8,861.2 434.6,857.4 437.5,855 C440.4,852.6 442.9,851.4 445,850.5 C447.1,849.6 449.2,849.7 450,849.5"/>
<path d="M95,989.5 C95.8,988.1 98.2,983.6 100,981 C101.8,978.4 104.2,975.1 106,973.7 C107.8,972.3 109.3,972.4 111,972.5 C112.7,972.6 114.1,973.8 116,974.5 C117.9,975.2 120.0,976.4 122.5,977 C125.0,977.6 128.1,978.2 131,978 C133.9,977.8 136.8,976.8 140,975.5 C143.2,974.2 146.7,972.0 150,970 C153.3,968.0 156.7,965.4 160,963.7 C163.3,962.0 166.7,960.6 170,960 C173.3,959.4 176.7,959.4 180,960 C183.3,960.6 186.7,962.0 190,963.7 C193.3,965.4 196.7,967.7 200,970 C203.3,972.3 206.7,974.8 210,977.5 C213.3,980.2 216.7,982.9 220,986 C223.3,989.1 226.7,993.5 230,996 C233.3,998.5 236.2,999.8 240,1001 C243.8,1002.2 248.3,1002.8 252.5,1003 C256.7,1003.2 261.7,1002.9 265,1002 C268.3,1001.1 270.0,999.7 272.5,997.5 C275.0,995.3 277.5,992.0 280,988.7 C282.5,985.4 285.0,981.0 287.5,977.5 C290.0,974.0 292.3,970.4 295,967.5 C297.7,964.6 301.0,961.6 303.7,960 C306.4,958.4 308.7,957.8 311,958 C313.3,958.2 315.4,959.2 317.5,961 C319.6,962.8 321.6,966.0 323.7,968.7 C325.8,971.5 327.7,974.6 330,977.5 C332.3,980.4 335.0,983.3 337.5,986 C340.0,988.7 342.5,991.4 345,993.7 C347.5,996.0 350.0,998.0 352.5,1000 C355.0,1002.0 357.9,1003.8 360,1006 C362.1,1008.2 363.6,1010.7 365,1013 C366.4,1015.3 367.7,1017.4 368.7,1020 C369.7,1022.6 369.8,1026.0 371,1028.7 C372.2,1031.4 373.9,1034.0 376,1036 C378.1,1038.0 380.8,1039.9 383.7,1041 C386.6,1042.1 390.4,1042.6 393.7,1042.5 C397.0,1042.4 401.0,1041.8 403.7,1040.5 C406.4,1039.2 408.8,1037.2 410,1035 C411.2,1032.8 411.4,1030.2 411,1027.5 C410.6,1024.8 409.3,1021.5 407.5,1018.7 C405.7,1016.0 402.9,1013.5 400,1011 C397.1,1008.5 393.3,1006.2 390,1003.7 C386.7,1001.2 382.9,998.5 380,996 C377.1,993.5 374.7,991.2 372.5,988.7 C370.3,986.2 368.2,983.7 367,981 C365.8,978.3 364.9,975.6 365,972.5 C365.1,969.4 365.8,965.6 367.5,962.5 C369.2,959.4 372.1,956.5 375,953.7 C377.9,951.0 381.2,948.3 385,946 C388.8,943.7 393.3,941.5 397.5,940 C401.7,938.5 406.2,937.7 410,937 C413.8,936.3 416.7,935.8 420,936 C423.3,936.2 426.7,937.2 430,938 C433.3,938.8 436.7,940.0 440,941 C443.3,942.0 446.7,943.1 450,943.7 C453.3,944.3 458.3,944.4 460,944.5"/>
<path d="M256,1111 C255.2,1109.6 251.9,1105.0 251,1102.5 C250.1,1100.0 249.7,1097.7 250.5,1096 C251.3,1094.3 253.2,1093.7 256,1092.5 C258.8,1091.3 263.1,1090.2 267.5,1088.7 C271.9,1087.2 277.5,1085.2 282.5,1083.7 C287.5,1082.2 293.3,1080.8 297.5,1080 C301.7,1079.2 304.9,1078.7 307.5,1078.7 C310.1,1078.7 311.8,1079.0 313,1080 C314.2,1081.0 314.9,1082.9 315,1085 C315.1,1087.1 314.8,1089.8 313.7,1092.5 C312.6,1095.2 311.0,1098.5 308.7,1101 C306.4,1103.5 303.1,1105.7 300,1107.5 C296.9,1109.3 291.7,1111.2 290,1112"/>
<path d="M117.5,1035 C118.3,1033.5 120.6,1029.2 122.5,1026 C124.4,1022.8 126.6,1018.4 128.7,1016 C130.8,1013.6 132.9,1012.1 135,1011.7 C137.1,1011.3 138.9,1012.3 141,1013.7 C143.1,1015.1 145.2,1017.7 147.5,1020 C149.8,1022.3 152.1,1025.2 155,1027.5 C157.9,1029.8 161.2,1031.8 165,1033.7 C168.8,1035.6 172.9,1037.2 177.5,1038.7 C182.1,1040.2 187.5,1041.3 192.5,1042.5 C197.5,1043.7 203.3,1044.1 207.5,1046 C211.7,1047.9 214.4,1051.0 217.5,1053.7 C220.6,1056.5 223.5,1059.8 226,1062.5 C228.5,1065.2 231.1,1067.8 232.5,1070 C233.9,1072.2 234.8,1073.9 234.5,1076 C234.2,1078.1 232.4,1080.2 231,1082.5 C229.6,1084.8 227.2,1087.1 226,1090 C224.8,1092.9 224.3,1096.2 223.7,1100 C223.1,1103.8 222.6,1108.3 222.5,1112.5 C222.4,1116.7 222.6,1120.8 223,1125 C223.4,1129.2 224.1,1133.8 225,1137.5 C225.9,1141.2 227.4,1144.8 228.7,1147.5 C229.9,1150.2 231.4,1152.1 232.5,1153.5 C233.6,1154.9 234.6,1155.6 235,1156"/>
<path d="M127.5,1110 C128.1,1107.5 129.8,1100.4 131,1095 C132.2,1089.6 133.9,1081.9 135,1077.5 C136.1,1073.1 136.5,1070.5 137.5,1068.7 C138.5,1067.0 139.8,1066.6 141,1067 C142.2,1067.4 143.5,1068.8 144.5,1071 C145.5,1073.2 146.1,1077.0 147,1080 C147.9,1083.0 148.2,1086.0 150,1088.7 C151.8,1091.4 154.6,1093.7 157.5,1096 C160.4,1098.3 164.4,1100.2 167.5,1102.5 C170.6,1104.8 173.8,1107.5 176,1110 C178.2,1112.5 179.8,1114.8 181,1117.5 C182.2,1120.2 183.0,1123.5 183,1126 C183.0,1128.5 182.3,1131.0 181,1132.5 C179.7,1134.0 177.7,1134.7 175,1135 C172.3,1135.3 167.7,1135.2 165,1134.5 C162.3,1133.8 160.4,1132.4 158.7,1131 C157.0,1129.6 156.0,1127.8 155,1126 C154.0,1124.2 153.6,1121.3 152.5,1120 C151.4,1118.7 150.2,1117.8 148.7,1118 C147.2,1118.2 145.4,1119.2 143.7,1121 C142.0,1122.8 140.1,1125.5 138.7,1128.7 C137.2,1131.9 135.8,1136.5 135,1140 C134.2,1143.5 133.9,1146.7 133.7,1150 C133.5,1153.3 133.7,1158.3 133.7,1160"/>
<path d="M359.3,584.8 C360.3,585.0 361.8,587.5 362.3,590 C362.9,592.5 362.7,596.3 362.6,600 C362.5,603.7 362.0,608.0 361.5,612 C361.0,616.0 360.2,620.8 359.5,624 C358.8,627.2 357.8,629.8 357,631.5 C356.2,633.2 355.4,634.3 354.5,634.2 C353.6,634.1 352.4,633.0 351.8,631 C351.2,629.0 351.0,625.5 351,622 C351.0,618.5 351.5,614.0 352,610 C352.5,606.0 353.1,601.5 353.8,598 C354.5,594.5 355.3,591.2 356.2,589 C357.1,586.8 358.3,584.6 359.3,584.8Z"/>
<ellipse cx="484.5" cy="82.5" rx="10.7" ry="8.2" />
<ellipse cx="179" cy="782" rx="10" ry="8.7" />
<ellipse cx="253.5" cy="741.5" rx="11" ry="12.5" />
<ellipse cx="138" cy="952" rx="10.5" ry="8" transform="rotate(-25 138 952)" />
<ellipse cx="307.5" cy="1033.7" rx="11" ry="15" transform="rotate(10 307.5 1033.7)" />
<rect x="477.95" y="133" width="11.5" height="40" rx="5.75" ry="5.75" />
</g>
<g font-family="'Liberation Sans', sans-serif" font-size="18.4" fill="#0b0b0b" stroke="#0b0b0b" stroke-width="0.25">
<text x="404.5" y="18.7">-3.0</text>
<text x="308" y="100">-2.5</text>
<text x="467.5" y="108.7">-3.5</text>
<text x="526" y="139">-3.5</text>
<text x="464" y="190.5">-3.0</text>
<text x="252" y="187.5">-3.5</text>
<text x="238.7" y="236">-4.0</text>
<text x="562" y="276">-3.0</text>
<text x="552.5" y="328">-2.5</text>
<text x="199.5" y="303.7">-2.5</text>
<text x="167" y="413">-2.0</text>
<text x="507" y="429.5">-2.0</text>
<text x="412.5" y="545">-1.5</text>
<text x="107.5" y="591">-2.0</text>
<text x="189.5" y="590">-1.5</text>
<text x="351" y="651">-1.0</text>
<text x="104" y="704.5">-1.5</text>
<text x="417.5" y="733.7">-1.0</text>
<text x="236" y="772.5">-1.5</text>
<text x="77" y="797">-1.0</text>
<text x="156" y="808">-1.0</text>
<text x="454" y="856">-0.5</text>
<text x="56.8" y="932.5">-0.5</text>
<text x="461" y="950.7">0.0</text>
<text x="61.5" y="996">0.0</text>
<text x="85" y="1041">0.5</text>
<text x="93.6" y="1117">1.0</text>
<text x="256" y="1118">0.0</text>
<text x="100.6" y="1167.5">1.0</text>
<text x="233.7" y="1163">0.5</text>
</g>
<g>
<rect x="4.5" y="46.10" width="41" height="29.55" fill="#7b0a06"/>
<rect x="4.5" y="75.35" width="41" height="29.55" fill="#990e0c"/>
<rect x="4.5" y="104.61" width="41" height="29.55" fill="#ab1210"/>
<rect x="4.5" y="133.86" width="41" height="29.55" fill="#bc1213"/>
<rect x="4.5" y="163.12" width="41" height="29.55" fill="#cf0c1a"/>
<rect x="4.5" y="192.37" width="41" height="29.55" fill="#e30b16"/>
<rect x="4.5" y="221.63" width="41" height="29.55" fill="#e8573a"/>
<rect x="4.5" y="250.88" width="41" height="29.55" fill="#ef8860"/>
<rect x="4.5" y="280.14" width="41" height="29.55" fill="#f5ae82"/>
<rect x="4.5" y="309.39" width="41" height="29.55" fill="#fbcd8c"/>
<rect x="4.5" y="338.65" width="41" height="29.55" fill="#fef6c6"/>
<rect x="4.5" y="367.90" width="41" height="29.55" fill="#d6e9f9"/>
<rect x="4.5" y="397.15" width="41" height="29.55" fill="#b9e1f6"/>
<rect x="4.5" y="426.41" width="41" height="29.55" fill="#a4d7f4"/>
<rect x="4.5" y="455.66" width="41" height="29.55" fill="#9dccf2"/>
<rect x="4.5" y="484.92" width="41" height="29.55" fill="#84beed"/>
<rect x="4.5" y="514.17" width="41" height="29.55" fill="#68a3db"/>
<rect x="4.5" y="543.43" width="41" height="29.55" fill="#6175b7"/>
<rect x="4.5" y="572.68" width="41" height="29.55" fill="#9769a8"/>
<rect x="4.5" y="601.94" width="41" height="29.55" fill="#9b2c86"/>
<rect x="4.5" y="631.19" width="41" height="29.55" fill="#730f60"/>
<rect x="4.5" y="660.45" width="41" height="29.55" fill="#5b0540"/>
<path d="M4.5,75.35 H45.5" stroke="rgba(40,15,30,0.55)" stroke-width="0.9"/>
<path d="M4.5,104.61 H45.5" stroke="rgba(40,15,30,0.55)" stroke-width="0.9"/>
<path d="M4.5,133.86 H45.5" stroke="rgba(40,15,30,0.55)" stroke-width="0.9"/>
<path d="M4.5,163.12 H45.5" stroke="rgba(40,15,30,0.55)" stroke-width="0.9"/>
<path d="M4.5,192.37 H45.5" stroke="rgba(40,15,30,0.55)" stroke-width="0.9"/>
<path d="M4.5,221.63 H45.5" stroke="rgba(40,15,30,0.55)" stroke-width="0.9"/>
<path d="M4.5,250.88 H45.5" stroke="rgba(40,15,30,0.55)" stroke-width="0.9"/>
<path d="M4.5,280.14 H45.5" stroke="rgba(40,15,30,0.55)" stroke-width="0.9"/>
<path d="M4.5,309.39 H45.5" stroke="rgba(40,15,30,0.55)" stroke-width="0.9"/>
<path d="M4.5,338.65 H45.5" stroke="rgba(40,15,30,0.55)" stroke-width="0.9"/>
<path d="M4.5,367.90 H45.5" stroke="rgba(40,15,30,0.55)" stroke-width="0.9"/>
<path d="M4.5,397.15 H45.5" stroke="rgba(40,15,30,0.55)" stroke-width="0.9"/>
<path d="M4.5,426.41 H45.5" stroke="rgba(40,15,30,0.55)" stroke-width="0.9"/>
<path d="M4.5,455.66 H45.5" stroke="rgba(40,15,30,0.55)" stroke-width="0.9"/>
<path d="M4.5,484.92 H45.5" stroke="rgba(40,15,30,0.55)" stroke-width="0.9"/>
<path d="M4.5,514.17 H45.5" stroke="rgba(40,15,30,0.55)" stroke-width="0.9"/>
<path d="M4.5,543.43 H45.5" stroke="rgba(40,15,30,0.55)" stroke-width="0.9"/>
<path d="M4.5,572.68 H45.5" stroke="rgba(40,15,30,0.55)" stroke-width="0.9"/>
<path d="M4.5,601.94 H45.5" stroke="rgba(40,15,30,0.55)" stroke-width="0.9"/>
<path d="M4.5,631.19 H45.5" stroke="rgba(40,15,30,0.55)" stroke-width="0.9"/>
<path d="M4.5,660.45 H45.5" stroke="rgba(40,15,30,0.55)" stroke-width="0.9"/>
<rect x="4.5" y="46.1" width="41" height="643.6" fill="none" stroke="rgba(40,30,40,0.55)" stroke-width="0.8"/>
<g font-family="'Liberation Sans', sans-serif" font-size="18.4" fill="#0b0b0b" stroke="#0b0b0b" stroke-width="0.25">
<text x="52.5" y="35.8">°C</text>
<text x="51.5" y="79.8">10.0</text>
<text x="51.5" y="109.0">9.0</text>
<text x="51.5" y="138.3">8.0</text>
<text x="51.5" y="167.6">7.0</text>
<text x="51.5" y="196.9">6.0</text>
<text x="51.5" y="226.2">5.0</text>
<text x="51.5" y="255.5">4.0</text>
<text x="51.5" y="284.8">3.0</text>
<text x="51.5" y="314.1">2.0</text>
<text x="51.5" y="343.4">1.0</text>
<text x="51.5" y="372.6">0.0</text>
<text x="51.5" y="401.9">-1.0</text>
<text x="51.5" y="431.2">-2.0</text>
<text x="51.5" y="460.5">-3.0</text>
<text x="51.5" y="489.8">-4.0</text>
<text x="51.5" y="519.1">-5.0</text>
<text x="51.5" y="548.4">-6.0</text>
<text x="51.5" y="577.7">-7.0</text>
<text x="51.5" y="607.0">-8.0</text>
<text x="51.5" y="636.3">-9.0</text>
<text x="51.5" y="665.5">-10.0</text>
</g></g>
<text x="0" y="0" transform="translate(460.0 1149.6) scale(0.805 1)" font-family="'Liberation Sans', sans-serif" font-weight="700" font-size="47" fill="#000" stroke="#000" stroke-width="4.6" stroke-linejoin="miter" letter-spacing="-1.6">SMHI</text>
</svg>
</body>
</html>
